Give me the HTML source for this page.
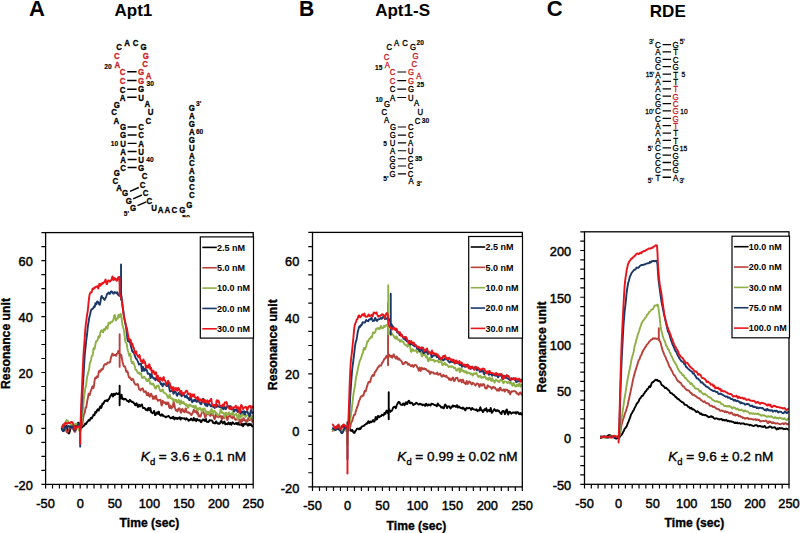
<!DOCTYPE html><html><head><meta charset="utf-8"><style>html,body{margin:0;padding:0;background:#fff;width:800px;height:533px;overflow:hidden;position:relative}</style></head><body><svg width="800" height="533" viewBox="0 0 800 533" style="position:absolute;left:0;top:0">
<style>text{font-family:"Liberation Sans", sans-serif}.tl{font-size:12.8px;stroke:#000;stroke-width:0.45px}.at{font-size:12.6px;font-weight:bold;stroke:#000;stroke-width:0.35px}.lg{font-size:9px;font-weight:bold}.kd{font-size:13.6px;stroke:#000;stroke-width:0.35px}.nt{font-size:9.2px;font-weight:bold}.nr{font-size:8.8px}.num{font-size:7.4px;font-weight:bold;stroke:#000;stroke-width:0.15px}.numr{font-size:7.6px;stroke:#000;stroke-width:0.3px}.lbl{font-size:22px;font-weight:bold}.ttl{font-size:17px;font-weight:bold}</style>
<g>
</g>
<g>
</g>
<g>
</g>
<path d="M61.52,427.99 L62.00,428.81 L62.48,429.84 L62.97,430.68 L63.45,430.97 L63.94,430.51 L64.42,429.39 L64.91,428.03 L65.39,426.81 L65.88,425.91 L66.36,425.81 L66.84,426.73 L67.33,428.71 L67.81,431.04 L68.30,432.86 L68.78,433.51 L69.27,432.96 L69.75,431.45 L70.24,429.39 L70.72,427.35 L71.20,425.82 L71.69,425.05 L72.17,425.04 L72.66,425.41 L73.14,425.85 L73.63,426.14 L74.11,426.23 L74.59,426.18 L75.08,426.10 L75.56,426.14 L76.05,426.00 L76.53,425.56 L77.02,424.72 L77.50,423.69 L77.99,422.84 L78.47,422.60 L78.95,423.17 L79.44,424.48 L79.92,426.15 L80.41,427.95 L80.89,428.55 L81.38,427.98 L81.86,427.29 L82.35,427.23 L82.83,426.54 L83.31,425.78 L83.80,425.84 L84.28,425.64 L84.77,424.39 L85.25,423.45 L85.74,423.94 L86.22,423.96 L86.70,422.90 L87.19,421.94 L87.67,421.44 L88.16,421.04 L88.64,419.91 L89.13,419.91 L89.61,420.61 L90.10,419.57 L90.58,418.10 L91.06,417.82 L91.55,418.53 L92.03,418.13 L92.52,416.72 L93.00,415.88 L93.49,414.74 L93.97,414.57 L94.46,415.26 L94.94,413.54 L95.42,411.84 L95.91,412.59 L96.39,412.53 L96.88,410.87 L97.36,409.64 L97.85,409.23 L98.33,410.08 L98.81,410.51 L99.30,409.22 L99.78,407.62 L100.27,406.23 L100.75,406.54 L101.24,407.90 L101.72,406.80 L102.21,404.07 L102.69,403.39 L103.17,404.01 L103.66,403.32 L104.14,402.06 L104.63,401.13 L105.11,400.55 L105.60,400.68 L106.08,400.96 L106.57,400.17 L107.05,400.11 L107.53,401.21 L108.02,400.13 L108.50,399.10 L108.99,399.08 L109.47,398.04 L109.96,396.93 L110.44,395.99 L110.92,395.47 L111.41,394.61 L111.89,393.82 L112.38,394.77 L112.86,396.56 L113.35,395.98 L113.83,393.76 L114.32,394.10 L114.80,395.04 L115.28,394.52 L115.77,393.78 L116.25,393.18 L116.74,393.37 L117.22,394.04 L117.71,394.08 L118.19,393.93 L118.68,393.95 L119.16,392.60 L119.64,392.84 L119.64,393.47 L119.64,385.64 L119.64,405.22 L119.64,396.27 L120.13,396.69 L120.61,398.48 L121.10,395.71 L121.58,394.62 L122.07,397.71 L122.55,399.13 L123.03,398.41 L123.52,399.01 L124.00,399.55 L124.49,399.00 L124.97,398.71 L125.46,399.06 L125.94,399.25 L126.43,399.88 L126.91,400.69 L127.39,400.98 L127.88,401.04 L128.36,401.15 L128.85,401.98 L129.33,401.43 L129.82,399.82 L130.30,400.29 L130.79,401.00 L131.27,401.13 L131.75,401.93 L132.24,402.11 L132.72,401.67 L133.21,402.46 L133.69,403.23 L134.18,402.91 L134.66,403.82 L135.14,405.18 L135.63,405.25 L136.11,403.90 L136.60,403.27 L137.08,404.66 L137.57,406.13 L138.05,406.95 L138.54,405.76 L139.02,404.60 L139.50,405.73 L139.99,406.52 L140.47,405.86 L140.96,405.22 L141.44,404.60 L141.93,404.43 L142.41,406.19 L142.90,407.88 L143.38,408.02 L143.86,407.87 L144.35,407.96 L144.83,408.13 L145.32,409.14 L145.80,409.86 L146.29,409.20 L146.77,409.88 L147.25,410.50 L147.74,408.86 L148.22,407.90 L148.71,408.78 L149.19,410.31 L149.68,409.88 L150.16,407.83 L150.65,409.16 L151.13,412.23 L151.61,412.67 L152.10,412.66 L152.58,413.22 L153.07,412.84 L153.55,411.96 L154.04,410.91 L154.52,412.38 L155.01,415.02 L155.49,415.12 L155.97,414.22 L156.46,412.96 L156.94,412.52 L157.43,413.59 L157.91,413.73 L158.40,411.69 L158.88,411.74 L159.36,414.17 L159.85,414.94 L160.33,415.07 L160.82,415.69 L161.30,415.16 L161.79,414.18 L162.27,415.24 L162.76,415.71 L163.24,415.26 L163.72,415.92 L164.21,416.36 L164.69,416.37 L165.18,416.73 L165.66,417.29 L166.15,417.06 L166.63,416.62 L167.12,416.53 L167.60,416.47 L168.08,416.19 L168.57,415.94 L169.05,416.49 L169.54,417.20 L170.02,417.65 L170.51,418.23 L170.99,418.08 L171.47,417.57 L171.96,418.22 L172.44,418.18 L172.93,416.92 L173.41,416.79 L173.90,418.46 L174.38,419.33 L174.87,417.84 L175.35,417.68 L175.83,418.40 L176.32,417.85 L176.80,418.50 L177.29,419.11 L177.77,418.28 L178.26,417.81 L178.74,418.52 L179.23,418.48 L179.71,417.22 L180.19,418.45 L180.68,419.57 L181.16,418.40 L181.65,418.00 L182.13,418.19 L182.62,418.42 L183.10,418.37 L183.58,418.46 L184.07,418.64 L184.55,418.32 L185.04,419.01 L185.52,419.56 L186.01,418.67 L186.49,418.21 L186.98,419.07 L187.46,419.35 L187.94,419.42 L188.43,420.76 L188.91,420.73 L189.40,420.04 L189.88,420.27 L190.37,419.67 L190.85,418.63 L191.34,418.68 L191.82,419.94 L192.30,420.13 L192.79,420.48 L193.27,420.07 L193.76,417.85 L194.24,418.95 L194.73,420.15 L195.21,419.08 L195.69,420.12 L196.18,421.17 L196.66,419.57 L197.15,418.84 L197.63,420.02 L198.12,420.18 L198.60,420.08 L199.09,420.48 L199.57,420.01 L200.05,420.07 L200.54,421.49 L201.02,422.13 L201.51,421.70 L201.99,420.88 L202.48,419.81 L202.96,419.46 L203.45,419.64 L203.93,419.96 L204.41,420.74 L204.90,421.06 L205.38,419.61 L205.87,418.87 L206.35,420.61 L206.84,421.79 L207.32,421.71 L207.80,421.98 L208.29,422.00 L208.77,421.53 L209.26,420.72 L209.74,419.97 L210.23,420.44 L210.71,420.57 L211.20,420.46 L211.68,420.58 L212.16,420.55 L212.65,421.90 L213.13,422.95 L213.62,422.52 L214.10,422.74 L214.59,423.27 L215.07,423.42 L215.56,422.88 L216.04,421.41 L216.52,421.69 L217.01,423.18 L217.49,423.52 L217.98,423.09 L218.46,423.13 L218.95,423.86 L219.43,423.83 L219.91,423.25 L220.40,422.53 L220.88,421.18 L221.37,420.86 L221.85,421.70 L222.34,422.77 L222.82,423.41 L223.31,422.72 L223.79,422.19 L224.27,421.50 L224.76,422.12 L225.24,424.23 L225.73,424.36 L226.21,423.64 L226.70,423.63 L227.18,424.34 L227.67,424.17 L228.15,422.89 L228.63,422.45 L229.12,423.27 L229.60,424.34 L230.09,423.86 L230.57,422.78 L231.06,423.84 L231.54,424.76 L232.02,423.32 L232.51,422.29 L232.99,422.70 L233.48,423.15 L233.96,423.58 L234.45,424.12 L234.93,424.01 L235.42,423.71 L235.90,422.95 L236.38,422.95 L236.87,424.24 L237.35,424.43 L237.84,423.46 L238.32,422.54 L238.81,423.46 L239.29,424.84 L239.78,424.02 L240.26,422.24 L240.74,422.66 L241.23,425.26 L241.71,425.13 L242.20,424.07 L242.68,425.80 L243.17,426.17 L243.65,424.15 L244.13,423.68 L244.62,424.56 L245.10,424.44 L245.59,423.59 L246.07,423.20 L246.56,423.57 L247.04,424.33 L247.53,425.42 L248.01,425.64 L248.49,424.61 L248.98,423.64 L249.46,424.29 L249.95,425.23 L250.43,424.45 L250.92,424.12 L251.40,425.08 L251.89,425.68 L252.37,426.48 L252.85,427.14" fill="none" stroke="#000000" stroke-width="1.90" stroke-linejoin="round"/>
<path d="M61.52,428.15 L62.00,427.35 L62.48,426.06 L62.97,424.86 L63.45,424.21 L63.94,424.36 L64.42,425.21 L64.91,426.57 L65.39,428.30 L65.88,430.06 L66.36,431.49 L66.84,432.32 L67.33,432.47 L67.81,431.91 L68.30,430.86 L68.78,429.64 L69.27,428.58 L69.75,428.08 L70.24,428.06 L70.72,428.25 L71.20,428.30 L71.69,428.14 L72.17,428.08 L72.66,428.27 L73.14,428.84 L73.63,429.78 L74.11,430.91 L74.59,431.68 L75.08,431.73 L75.56,430.74 L76.05,428.79 L76.53,426.54 L77.02,424.63 L77.50,423.68 L77.99,423.74 L78.47,424.30 L78.95,424.73 L79.44,424.55 L79.92,424.06 L80.41,429.46 L80.89,426.54 L81.38,424.52 L81.86,425.25 L82.35,424.89 L82.83,421.23 L83.31,417.43 L83.80,414.75 L84.28,413.50 L84.77,412.85 L85.25,409.32 L85.74,407.22 L86.22,407.49 L86.70,404.50 L87.19,401.02 L87.67,399.38 L88.16,396.32 L88.64,393.68 L89.13,394.26 L89.61,395.13 L90.10,393.77 L90.58,391.42 L91.06,390.21 L91.55,389.33 L92.03,387.45 L92.52,386.26 L93.00,386.99 L93.49,388.02 L93.97,386.00 L94.46,381.58 L94.94,378.71 L95.42,377.52 L95.91,377.99 L96.39,378.13 L96.88,376.49 L97.36,376.30 L97.85,377.07 L98.33,374.89 L98.81,371.46 L99.30,370.80 L99.78,371.35 L100.27,371.75 L100.75,371.02 L101.24,369.24 L101.72,369.24 L102.21,369.64 L102.69,369.11 L103.17,368.37 L103.66,366.27 L104.14,365.03 L104.63,364.89 L105.11,364.01 L105.60,364.14 L106.08,364.49 L106.57,364.29 L107.05,363.43 L107.53,362.49 L108.02,362.58 L108.50,362.70 L108.99,362.43 L109.47,362.58 L109.96,362.31 L110.44,360.24 L110.92,357.79 L111.41,356.43 L111.89,354.81 L112.38,353.55 L112.86,355.10 L113.35,355.48 L113.83,354.42 L114.32,354.93 L114.80,355.05 L115.28,355.04 L115.77,355.76 L116.25,355.74 L116.74,353.94 L117.22,353.69 L117.71,353.47 L118.19,351.04 L118.68,350.87 L119.16,352.88 L119.64,354.29 L119.64,354.30 L119.64,334.16 L119.64,366.89 L119.64,355.70 L120.13,354.63 L120.61,354.56 L121.10,354.63 L121.58,356.33 L122.07,359.56 L122.55,361.74 L123.03,363.65 L123.52,365.77 L124.00,366.63 L124.49,366.64 L124.97,366.48 L125.46,367.95 L125.94,370.61 L126.43,371.88 L126.91,371.59 L127.39,371.20 L127.88,372.70 L128.36,374.96 L128.85,377.01 L129.33,377.75 L129.82,377.38 L130.30,377.62 L130.79,378.85 L131.27,379.99 L131.75,379.95 L132.24,379.43 L132.72,378.94 L133.21,379.50 L133.69,381.13 L134.18,382.77 L134.66,383.40 L135.14,384.17 L135.63,384.68 L136.11,384.50 L136.60,384.73 L137.08,384.39 L137.57,383.95 L138.05,384.70 L138.54,386.95 L139.02,389.12 L139.50,389.28 L139.99,389.81 L140.47,390.47 L140.96,389.11 L141.44,388.97 L141.93,389.27 L142.41,388.34 L142.90,388.61 L143.38,390.51 L143.86,391.88 L144.35,391.35 L144.83,391.62 L145.32,392.29 L145.80,391.33 L146.29,392.69 L146.77,395.17 L147.25,395.30 L147.74,394.55 L148.22,392.93 L148.71,393.35 L149.19,396.13 L149.68,396.75 L150.16,395.88 L150.65,394.88 L151.13,393.66 L151.61,394.47 L152.10,395.99 L152.58,397.48 L153.07,399.03 L153.55,397.65 L154.04,396.40 L154.52,397.97 L155.01,398.76 L155.49,396.88 L155.97,395.69 L156.46,398.12 L156.94,399.53 L157.43,399.49 L157.91,400.82 L158.40,400.85 L158.88,400.03 L159.36,400.18 L159.85,400.36 L160.33,399.65 L160.82,401.10 L161.30,404.71 L161.79,405.52 L162.27,402.83 L162.76,400.76 L163.24,401.51 L163.72,402.77 L164.21,402.83 L164.69,402.28 L165.18,402.44 L165.66,403.84 L166.15,404.37 L166.63,402.57 L167.12,402.90 L167.60,404.12 L168.08,402.49 L168.57,403.21 L169.05,406.84 L169.54,408.00 L170.02,405.95 L170.51,405.40 L170.99,407.87 L171.47,408.47 L171.96,406.82 L172.44,407.25 L172.93,406.28 L173.41,402.65 L173.90,402.37 L174.38,405.34 L174.87,407.31 L175.35,408.80 L175.83,410.44 L176.32,409.97 L176.80,410.03 L177.29,411.56 L177.77,411.07 L178.26,409.01 L178.74,408.32 L179.23,408.20 L179.71,408.49 L180.19,410.55 L180.68,412.56 L181.16,412.70 L181.65,410.65 L182.13,409.05 L182.62,409.13 L183.10,409.96 L183.58,411.42 L184.07,411.96 L184.55,412.30 L185.04,411.24 L185.52,408.37 L186.01,408.80 L186.49,411.58 L186.98,412.25 L187.46,412.34 L187.94,412.55 L188.43,412.25 L188.91,412.77 L189.40,413.20 L189.88,413.20 L190.37,413.57 L190.85,414.55 L191.34,415.10 L191.82,414.41 L192.30,413.52 L192.79,412.72 L193.27,411.20 L193.76,409.67 L194.24,410.42 L194.73,411.69 L195.21,412.11 L195.69,412.02 L196.18,410.87 L196.66,411.95 L197.15,413.67 L197.63,412.26 L198.12,413.15 L198.60,416.38 L199.09,416.06 L199.57,415.50 L200.05,416.70 L200.54,416.54 L201.02,415.01 L201.51,413.32 L201.99,411.28 L202.48,410.46 L202.96,411.91 L203.45,412.62 L203.93,412.96 L204.41,414.37 L204.90,416.61 L205.38,417.81 L205.87,415.96 L206.35,412.88 L206.84,411.57 L207.32,412.43 L207.80,414.10 L208.29,414.44 L208.77,412.49 L209.26,412.49 L209.74,414.74 L210.23,415.98 L210.71,415.40 L211.20,413.64 L211.68,413.82 L212.16,414.88 L212.65,414.61 L213.13,414.87 L213.62,416.52 L214.10,418.20 L214.59,419.14 L215.07,418.43 L215.56,414.91 L216.04,413.86 L216.52,416.60 L217.01,416.66 L217.49,416.11 L217.98,417.02 L218.46,417.29 L218.95,416.81 L219.43,415.94 L219.91,416.39 L220.40,416.35 L220.88,415.95 L221.37,417.92 L221.85,419.61 L222.34,418.14 L222.82,416.32 L223.31,416.45 L223.79,417.48 L224.27,418.24 L224.76,417.22 L225.24,416.22 L225.73,415.62 L226.21,415.10 L226.70,417.18 L227.18,419.99 L227.67,419.57 L228.15,417.28 L228.63,416.45 L229.12,416.29 L229.60,415.64 L230.09,414.82 L230.57,415.64 L231.06,417.59 L231.54,417.36 L232.02,417.46 L232.51,418.25 L232.99,416.54 L233.48,415.36 L233.96,416.61 L234.45,418.00 L234.93,419.07 L235.42,419.87 L235.90,419.75 L236.38,419.47 L236.87,419.45 L237.35,419.34 L237.84,418.22 L238.32,418.24 L238.81,419.46 L239.29,420.12 L239.78,422.55 L240.26,423.38 L240.74,420.90 L241.23,419.24 L241.71,419.99 L242.20,421.41 L242.68,420.67 L243.17,418.79 L243.65,418.17 L244.13,418.83 L244.62,419.90 L245.10,420.96 L245.59,421.13 L246.07,420.30 L246.56,420.14 L247.04,421.50 L247.53,421.55 L248.01,418.97 L248.49,417.49 L248.98,418.61 L249.46,420.06 L249.95,420.08 L250.43,419.08 L250.92,418.18 L251.40,417.96 L251.89,419.83 L252.37,422.14 L252.85,422.17" fill="none" stroke="#b8403a" stroke-width="1.90" stroke-linejoin="round"/>
<path d="M61.52,427.10 L62.00,427.20 L62.48,427.51 L62.97,427.73 L63.45,427.49 L63.94,426.62 L64.42,425.33 L64.91,423.90 L65.39,422.55 L65.88,421.32 L66.36,420.44 L66.84,420.05 L67.33,420.26 L67.81,420.87 L68.30,421.69 L68.78,422.37 L69.27,422.82 L69.75,423.12 L70.24,423.49 L70.72,424.02 L71.20,424.56 L71.69,424.85 L72.17,424.84 L72.66,424.66 L73.14,424.55 L73.63,424.57 L74.11,424.66 L74.59,424.55 L75.08,424.22 L75.56,423.83 L76.05,423.68 L76.53,424.01 L77.02,424.87 L77.50,426.12 L77.99,427.62 L78.47,429.12 L78.95,430.28 L79.44,430.78 L79.92,430.79 L80.41,430.66 L80.89,425.71 L81.38,420.44 L81.86,417.70 L82.35,415.07 L82.83,410.75 L83.31,405.49 L83.80,399.69 L84.28,395.48 L84.77,392.18 L85.25,388.67 L85.74,386.86 L86.22,384.47 L86.70,379.97 L87.19,376.56 L87.67,375.01 L88.16,372.77 L88.64,370.90 L89.13,369.23 L89.61,364.79 L90.10,362.22 L90.58,361.90 L91.06,359.79 L91.55,357.06 L92.03,355.52 L92.52,355.56 L93.00,353.27 L93.49,348.66 L93.97,347.64 L94.46,349.03 L94.94,347.12 L95.42,344.32 L95.91,342.38 L96.39,340.84 L96.88,340.95 L97.36,340.65 L97.85,338.93 L98.33,336.70 L98.81,336.29 L99.30,337.63 L99.78,336.58 L100.27,332.95 L100.75,331.22 L101.24,330.84 L101.72,330.15 L102.21,330.86 L102.69,332.05 L103.17,332.26 L103.66,330.40 L104.14,328.88 L104.63,329.99 L105.11,329.98 L105.60,328.23 L106.08,326.65 L106.57,326.53 L107.05,328.44 L107.53,328.65 L108.02,325.56 L108.50,322.79 L108.99,322.50 L109.47,323.37 L109.96,323.56 L110.44,323.03 L110.92,322.22 L111.41,321.80 L111.89,322.14 L112.38,321.69 L112.86,320.57 L113.35,319.69 L113.83,317.83 L114.32,315.40 L114.80,314.90 L115.28,317.43 L115.77,320.44 L116.25,320.32 L116.74,318.47 L117.22,318.55 L117.71,318.74 L118.19,315.74 L118.68,314.65 L119.16,316.90 L119.64,316.98 L120.13,314.93 L120.61,313.92 L121.10,315.19 L121.58,318.42 L122.07,322.44 L122.55,325.56 L123.03,327.20 L123.52,328.64 L124.00,330.90 L124.49,334.61 L124.97,338.99 L125.46,341.98 L125.94,342.84 L126.43,342.86 L126.91,344.99 L127.39,348.65 L127.88,350.56 L128.36,351.83 L128.85,354.37 L129.33,355.88 L129.82,354.24 L130.30,353.71 L130.79,357.19 L131.27,360.77 L131.75,362.90 L132.24,363.36 L132.72,361.92 L133.21,361.85 L133.69,363.45 L134.18,364.64 L134.66,365.60 L135.14,367.63 L135.63,369.89 L136.11,370.06 L136.60,370.03 L137.08,371.38 L137.57,372.53 L138.05,373.19 L138.54,372.76 L139.02,372.44 L139.50,373.78 L139.99,374.28 L140.47,373.63 L140.96,373.17 L141.44,374.92 L141.93,377.73 L142.41,377.78 L142.90,377.74 L143.38,377.86 L143.86,376.91 L144.35,376.65 L144.83,377.55 L145.32,378.20 L145.80,378.53 L146.29,380.30 L146.77,381.09 L147.25,381.03 L147.74,380.78 L148.22,379.27 L148.71,378.59 L149.19,379.55 L149.68,382.12 L150.16,383.90 L150.65,383.36 L151.13,383.41 L151.61,384.38 L152.10,384.51 L152.58,383.64 L153.07,383.52 L153.55,384.54 L154.04,385.15 L154.52,386.65 L155.01,388.21 L155.49,388.66 L155.97,388.52 L156.46,386.85 L156.94,385.70 L157.43,386.22 L157.91,385.83 L158.40,385.42 L158.88,386.84 L159.36,388.39 L159.85,390.19 L160.33,390.99 L160.82,390.77 L161.30,391.27 L161.79,390.58 L162.27,389.54 L162.76,389.63 L163.24,391.25 L163.72,392.57 L164.21,392.50 L164.69,393.04 L165.18,393.37 L165.66,393.34 L166.15,393.82 L166.63,394.78 L167.12,395.59 L167.60,396.78 L168.08,397.95 L168.57,397.70 L169.05,396.66 L169.54,394.66 L170.02,395.39 L170.51,398.38 L170.99,398.28 L171.47,398.21 L171.96,398.87 L172.44,398.41 L172.93,399.80 L173.41,401.42 L173.90,400.57 L174.38,399.60 L174.87,400.33 L175.35,400.97 L175.83,399.70 L176.32,399.85 L176.80,402.11 L177.29,402.60 L177.77,402.15 L178.26,401.21 L178.74,399.85 L179.23,401.37 L179.71,403.99 L180.19,404.29 L180.68,402.00 L181.16,400.40 L181.65,402.09 L182.13,403.27 L182.62,403.18 L183.10,402.42 L183.58,401.85 L184.07,403.36 L184.55,404.12 L185.04,403.98 L185.52,405.11 L186.01,405.44 L186.49,404.26 L186.98,404.89 L187.46,406.68 L187.94,407.86 L188.43,407.57 L188.91,405.71 L189.40,404.68 L189.88,404.57 L190.37,404.60 L190.85,405.52 L191.34,406.33 L191.82,406.03 L192.30,406.40 L192.79,407.05 L193.27,406.22 L193.76,405.79 L194.24,407.26 L194.73,408.11 L195.21,406.51 L195.69,405.79 L196.18,407.75 L196.66,409.07 L197.15,408.31 L197.63,408.66 L198.12,410.38 L198.60,409.12 L199.09,408.06 L199.57,408.72 L200.05,407.79 L200.54,408.32 L201.02,409.91 L201.51,410.84 L201.99,412.04 L202.48,410.50 L202.96,408.69 L203.45,408.97 L203.93,408.54 L204.41,408.66 L204.90,409.20 L205.38,411.24 L205.87,413.76 L206.35,412.70 L206.84,411.62 L207.32,413.03 L207.80,413.13 L208.29,411.81 L208.77,412.75 L209.26,414.15 L209.74,412.65 L210.23,410.99 L210.71,410.89 L211.20,409.66 L211.68,409.05 L212.16,411.37 L212.65,413.96 L213.13,414.19 L213.62,412.20 L214.10,410.71 L214.59,410.82 L215.07,411.55 L215.56,412.24 L216.04,412.49 L216.52,412.98 L217.01,413.96 L217.49,415.34 L217.98,415.69 L218.46,414.97 L218.95,415.05 L219.43,414.31 L219.91,412.73 L220.40,410.85 L220.88,408.86 L221.37,410.52 L221.85,412.92 L222.34,412.46 L222.82,412.83 L223.31,413.36 L223.79,413.02 L224.27,415.77 L224.76,417.47 L225.24,415.01 L225.73,413.11 L226.21,412.77 L226.70,414.53 L227.18,414.90 L227.67,413.52 L228.15,414.36 L228.63,413.69 L229.12,412.22 L229.60,413.31 L230.09,414.34 L230.57,413.84 L231.06,413.89 L231.54,414.67 L232.02,414.01 L232.51,412.12 L232.99,411.67 L233.48,414.35 L233.96,415.78 L234.45,414.84 L234.93,414.86 L235.42,414.86 L235.90,414.03 L236.38,414.04 L236.87,415.38 L237.35,417.43 L237.84,419.18 L238.32,417.16 L238.81,414.51 L239.29,415.84 L239.78,417.64 L240.26,417.22 L240.74,415.59 L241.23,415.87 L241.71,416.73 L242.20,415.56 L242.68,414.64 L243.17,415.20 L243.65,415.19 L244.13,413.96 L244.62,414.51 L245.10,416.30 L245.59,417.01 L246.07,416.27 L246.56,415.46 L247.04,415.38 L247.53,414.74 L248.01,414.08 L248.49,413.80 L248.98,414.58 L249.46,417.22 L249.95,418.74 L250.43,416.85 L250.92,415.27 L251.40,415.53 L251.89,416.11 L252.37,417.13 L252.85,417.45" fill="none" stroke="#8fb046" stroke-width="1.90" stroke-linejoin="round"/>
<path d="M61.52,428.28 L62.00,429.26 L62.48,430.39 L62.97,431.15 L63.45,430.89 L63.94,429.53 L64.42,427.70 L64.91,426.40 L65.39,426.22 L65.88,426.86 L66.36,427.64 L66.84,427.84 L67.33,427.40 L67.81,426.58 L68.30,425.95 L68.78,425.90 L69.27,426.40 L69.75,427.08 L70.24,427.56 L70.72,427.62 L71.20,427.30 L71.69,426.80 L72.17,426.55 L72.66,426.83 L73.14,427.78 L73.63,429.00 L74.11,430.09 L74.59,430.59 L75.08,430.42 L75.56,429.77 L76.05,428.77 L76.53,427.57 L77.02,426.43 L77.50,425.39 L77.99,424.58 L78.47,423.99 L78.95,423.86 L79.44,424.35 L79.92,425.94 L80.20,427.05 L80.20,446.63 L80.20,428.44 L80.41,430.82 L80.89,423.04 L81.38,413.19 L81.86,403.85 L82.35,395.42 L82.83,387.31 L83.31,379.07 L83.80,371.26 L84.28,362.64 L84.77,354.77 L85.25,350.24 L85.74,345.50 L86.22,340.52 L86.70,337.21 L87.19,333.06 L87.67,327.92 L88.16,324.53 L88.64,321.87 L89.13,318.20 L89.61,316.16 L90.10,314.51 L90.58,312.02 L91.06,310.28 L91.55,309.30 L92.03,309.24 L92.52,308.88 L93.00,308.54 L93.49,307.80 L93.97,306.36 L94.46,307.10 L94.94,306.22 L95.42,303.14 L95.91,303.92 L96.39,304.19 L96.88,301.92 L97.36,301.43 L97.85,301.80 L98.33,302.51 L98.81,303.45 L99.30,304.60 L99.78,304.76 L100.27,302.70 L100.75,299.97 L101.24,296.82 L101.72,295.95 L102.21,297.55 L102.69,297.74 L103.17,297.79 L103.66,298.68 L104.14,299.71 L104.63,299.77 L105.11,298.85 L105.60,297.91 L106.08,296.85 L106.57,295.48 L107.05,293.88 L107.53,293.77 L108.02,293.57 L108.50,292.49 L108.99,292.77 L109.47,293.68 L109.96,293.91 L110.44,293.05 L110.92,291.59 L111.41,291.34 L111.89,291.68 L112.38,292.18 L112.86,292.90 L113.35,293.62 L113.83,293.67 L114.32,292.24 L114.80,292.09 L115.28,292.58 L115.77,292.48 L116.25,293.26 L116.74,293.18 L117.22,292.35 L117.71,293.62 L118.19,294.93 L118.68,295.50 L119.16,295.73 L119.64,294.71 L120.13,295.67 L120.61,296.26 L121.03,296.95 L121.03,264.49 L121.03,299.75 L121.10,294.70 L121.58,296.41 L122.07,302.06 L122.55,306.60 L123.03,309.08 L123.52,312.06 L124.00,316.62 L124.49,319.49 L124.97,321.22 L125.46,324.03 L125.94,326.62 L126.43,330.00 L126.91,334.41 L127.39,338.46 L127.88,341.08 L128.36,340.11 L128.85,339.90 L129.33,342.10 L129.82,342.28 L130.30,343.07 L130.79,345.79 L131.27,347.58 L131.75,349.24 L132.24,351.18 L132.72,352.04 L133.21,352.07 L133.69,352.06 L134.18,353.43 L134.66,355.28 L135.14,356.27 L135.63,357.87 L136.11,358.71 L136.60,358.79 L137.08,359.89 L137.57,360.86 L138.05,361.76 L138.54,363.40 L139.02,364.53 L139.50,364.04 L139.99,363.68 L140.47,363.72 L140.96,363.59 L141.44,367.12 L141.93,371.23 L142.41,369.32 L142.90,366.71 L143.38,368.31 L143.86,370.73 L144.35,370.70 L144.83,368.92 L145.32,368.64 L145.80,369.88 L146.29,370.21 L146.77,369.91 L147.25,371.76 L147.74,373.88 L148.22,373.42 L148.71,373.46 L149.19,374.01 L149.68,373.90 L150.16,376.48 L150.65,378.18 L151.13,375.04 L151.61,373.91 L152.10,376.17 L152.58,377.14 L153.07,377.80 L153.55,378.62 L154.04,378.20 L154.52,378.25 L155.01,379.40 L155.49,380.34 L155.97,379.56 L156.46,377.32 L156.94,376.73 L157.43,378.29 L157.91,380.35 L158.40,381.06 L158.88,379.34 L159.36,379.58 L159.85,381.67 L160.33,382.65 L160.82,384.32 L161.30,384.03 L161.79,383.45 L162.27,385.68 L162.76,386.28 L163.24,384.19 L163.72,383.49 L164.21,384.01 L164.69,384.30 L165.18,384.63 L165.66,384.20 L166.15,384.99 L166.63,386.03 L167.12,386.06 L167.60,385.62 L168.08,384.04 L168.57,384.05 L169.05,386.74 L169.54,389.69 L170.02,391.50 L170.51,391.49 L170.99,390.68 L171.47,390.64 L171.96,390.94 L172.44,390.85 L172.93,391.67 L173.41,393.78 L173.90,393.47 L174.38,391.02 L174.87,391.16 L175.35,392.18 L175.83,392.25 L176.32,393.57 L176.80,395.53 L177.29,395.81 L177.77,394.23 L178.26,393.19 L178.74,392.85 L179.23,393.24 L179.71,394.43 L180.19,394.32 L180.68,394.05 L181.16,395.33 L181.65,396.25 L182.13,395.72 L182.62,394.79 L183.10,393.76 L183.58,393.90 L184.07,395.14 L184.55,396.11 L185.04,397.08 L185.52,397.19 L186.01,396.18 L186.49,395.35 L186.98,396.60 L187.46,398.18 L187.94,397.87 L188.43,398.11 L188.91,399.26 L189.40,400.23 L189.88,398.87 L190.37,396.44 L190.85,397.04 L191.34,399.15 L191.82,401.43 L192.30,402.25 L192.79,401.18 L193.27,400.15 L193.76,400.24 L194.24,401.10 L194.73,399.83 L195.21,399.32 L195.69,400.76 L196.18,401.32 L196.66,401.85 L197.15,401.52 L197.63,399.95 L198.12,399.88 L198.60,401.67 L199.09,401.71 L199.57,401.60 L200.05,403.24 L200.54,403.84 L201.02,404.22 L201.51,403.81 L201.99,402.08 L202.48,400.13 L202.96,398.63 L203.45,399.14 L203.93,401.04 L204.41,403.14 L204.90,404.06 L205.38,405.23 L205.87,405.63 L206.35,403.78 L206.84,404.59 L207.32,406.28 L207.80,405.04 L208.29,402.86 L208.77,402.68 L209.26,404.09 L209.74,404.50 L210.23,405.30 L210.71,406.17 L211.20,405.48 L211.68,406.02 L212.16,406.52 L212.65,405.97 L213.13,406.64 L213.62,406.96 L214.10,407.39 L214.59,407.93 L215.07,406.85 L215.56,406.35 L216.04,407.36 L216.52,406.25 L217.01,404.90 L217.49,406.32 L217.98,406.56 L218.46,406.14 L218.95,406.71 L219.43,406.97 L219.91,406.97 L220.40,406.47 L220.88,407.14 L221.37,407.42 L221.85,406.13 L222.34,406.76 L222.82,408.44 L223.31,409.17 L223.79,408.86 L224.27,408.02 L224.76,406.96 L225.24,407.23 L225.73,409.17 L226.21,408.59 L226.70,406.76 L227.18,407.01 L227.67,406.70 L228.15,405.94 L228.63,406.78 L229.12,407.81 L229.60,407.31 L230.09,405.89 L230.57,406.85 L231.06,408.82 L231.54,409.48 L232.02,409.49 L232.51,408.09 L232.99,407.81 L233.48,409.35 L233.96,411.13 L234.45,411.50 L234.93,409.79 L235.42,409.48 L235.90,409.71 L236.38,409.47 L236.87,410.59 L237.35,411.51 L237.84,412.08 L238.32,410.68 L238.81,408.07 L239.29,409.14 L239.78,410.26 L240.26,411.40 L240.74,413.81 L241.23,412.47 L241.71,411.14 L242.20,411.51 L242.68,411.96 L243.17,412.98 L243.65,411.50 L244.13,411.15 L244.62,414.10 L245.10,414.35 L245.59,412.23 L246.07,411.72 L246.56,411.88 L247.04,411.16 L247.53,411.75 L248.01,413.12 L248.49,413.36 L248.98,414.62 L249.46,416.65 L249.95,415.47 L250.43,412.14 L250.92,410.17 L251.40,410.47 L251.89,412.82 L252.37,413.18 L252.85,411.75" fill="none" stroke="#1b3868" stroke-width="1.90" stroke-linejoin="round"/>
<path d="M61.52,426.36 L62.00,426.81 L62.48,426.90 L62.97,426.70 L63.45,426.25 L63.94,425.54 L64.42,424.53 L64.91,423.45 L65.39,422.78 L65.88,422.85 L66.36,423.38 L66.84,423.84 L67.33,423.72 L67.81,423.15 L68.30,422.72 L68.78,422.74 L69.27,423.07 L69.75,423.21 L70.24,422.89 L70.72,422.33 L71.20,421.96 L71.69,421.89 L72.17,422.09 L72.66,422.59 L73.14,423.74 L73.63,425.48 L74.11,427.42 L74.59,428.86 L75.08,429.37 L75.56,428.96 L76.05,427.94 L76.53,426.92 L77.02,426.33 L77.50,426.27 L77.99,426.58 L78.47,426.86 L78.95,426.99 L79.44,426.85 L79.92,426.73 L80.20,425.65 L80.20,443.83 L80.20,428.44 L80.41,427.59 L80.89,414.32 L81.38,399.97 L81.86,390.50 L82.35,379.03 L82.83,368.16 L83.31,358.15 L83.80,350.03 L84.28,344.13 L84.77,337.08 L85.25,329.84 L85.74,324.97 L86.22,321.34 L86.70,317.28 L87.19,314.17 L87.67,311.32 L88.16,306.78 L88.64,301.73 L89.13,297.53 L89.61,294.38 L90.10,293.27 L90.58,292.51 L91.06,292.03 L91.55,292.47 L92.03,290.72 L92.52,288.73 L93.00,289.07 L93.49,289.04 L93.97,287.99 L94.46,287.50 L94.94,287.86 L95.42,287.60 L95.91,286.65 L96.39,286.89 L96.88,286.76 L97.36,286.13 L97.85,287.47 L98.33,288.48 L98.81,286.52 L99.30,283.94 L99.78,284.22 L100.27,285.69 L100.75,284.90 L101.24,283.56 L101.72,284.42 L102.21,284.21 L102.69,282.79 L103.17,283.19 L103.66,282.83 L104.14,281.91 L104.63,281.87 L105.11,280.51 L105.60,279.45 L106.08,281.43 L106.57,284.01 L107.05,284.07 L107.53,282.20 L108.02,280.73 L108.50,280.38 L108.99,280.87 L109.47,281.46 L109.96,281.58 L110.44,280.91 L110.92,280.12 L111.41,279.99 L111.89,278.38 L112.38,276.46 L112.86,278.54 L113.35,280.01 L113.83,277.74 L114.32,278.19 L114.80,279.58 L115.28,278.46 L115.77,278.77 L116.25,280.19 L116.74,280.81 L117.22,280.50 L117.71,278.52 L118.19,277.27 L118.68,277.93 L119.16,276.83 L119.64,283.88 L119.64,278.48 L119.64,295.55 L119.64,279.32 L119.64,294.15 L120.13,294.92 L120.61,296.66 L121.10,297.57 L121.58,299.73 L122.07,301.31 L122.55,305.08 L123.03,310.18 L123.52,314.14 L124.00,316.61 L124.49,318.46 L124.97,320.89 L125.46,323.20 L125.94,325.69 L126.43,327.19 L126.91,328.18 L127.39,331.13 L127.88,333.98 L128.36,336.24 L128.85,339.15 L129.33,340.03 L129.82,339.41 L130.30,339.35 L130.79,340.36 L131.27,343.93 L131.75,345.69 L132.24,343.55 L132.72,344.80 L133.21,347.59 L133.69,347.51 L134.18,349.80 L134.66,353.13 L135.14,353.31 L135.63,351.77 L136.11,351.30 L136.60,353.48 L137.08,355.08 L137.57,355.47 L138.05,356.64 L138.54,357.29 L139.02,356.11 L139.50,355.05 L139.99,356.75 L140.47,359.95 L140.96,361.02 L141.44,360.55 L141.93,361.33 L142.41,363.08 L142.90,362.52 L143.38,359.50 L143.86,360.29 L144.35,362.88 L144.83,361.86 L145.32,363.11 L145.80,367.28 L146.29,367.77 L146.77,366.11 L147.25,365.64 L147.74,366.61 L148.22,367.71 L148.71,366.76 L149.19,364.30 L149.68,364.93 L150.16,369.23 L150.65,369.64 L151.13,367.95 L151.61,370.74 L152.10,372.78 L152.58,371.83 L153.07,370.88 L153.55,370.73 L154.04,372.57 L154.52,374.26 L155.01,373.86 L155.49,372.58 L155.97,372.25 L156.46,375.09 L156.94,378.45 L157.43,377.66 L157.91,375.79 L158.40,378.32 L158.88,381.21 L159.36,380.18 L159.85,377.89 L160.33,377.75 L160.82,379.20 L161.30,378.69 L161.79,378.76 L162.27,380.76 L162.76,380.10 L163.24,377.43 L163.72,377.10 L164.21,379.05 L164.69,380.17 L165.18,380.65 L165.66,382.18 L166.15,383.87 L166.63,384.63 L167.12,384.35 L167.60,382.22 L168.08,380.71 L168.57,382.14 L169.05,382.44 L169.54,382.71 L170.02,384.13 L170.51,385.91 L170.99,388.33 L171.47,387.26 L171.96,387.17 L172.44,390.57 L172.93,389.84 L173.41,387.09 L173.90,388.22 L174.38,390.05 L174.87,390.00 L175.35,389.11 L175.83,387.90 L176.32,388.15 L176.80,389.86 L177.29,390.71 L177.77,389.41 L178.26,387.98 L178.74,388.40 L179.23,389.44 L179.71,391.35 L180.19,393.29 L180.68,392.54 L181.16,390.85 L181.65,391.57 L182.13,394.04 L182.62,394.74 L183.10,393.35 L183.58,392.99 L184.07,393.50 L184.55,393.25 L185.04,392.58 L185.52,391.87 L186.01,391.16 L186.49,390.66 L186.98,390.68 L187.46,392.11 L187.94,394.05 L188.43,394.26 L188.91,394.06 L189.40,394.39 L189.88,393.53 L190.37,393.64 L190.85,396.79 L191.34,397.63 L191.82,395.20 L192.30,394.50 L192.79,395.96 L193.27,396.38 L193.76,394.44 L194.24,394.49 L194.73,396.72 L195.21,397.51 L195.69,397.41 L196.18,397.75 L196.66,398.87 L197.15,398.66 L197.63,397.03 L198.12,397.29 L198.60,398.21 L199.09,399.99 L199.57,401.56 L200.05,400.03 L200.54,399.37 L201.02,399.84 L201.51,400.21 L201.99,400.32 L202.48,399.76 L202.96,400.94 L203.45,402.42 L203.93,401.96 L204.41,400.27 L204.90,399.82 L205.38,402.05 L205.87,402.61 L206.35,401.29 L206.84,401.02 L207.32,400.36 L207.80,401.09 L208.29,402.92 L208.77,402.64 L209.26,400.88 L209.74,400.39 L210.23,400.91 L210.71,399.40 L211.20,398.73 L211.68,401.88 L212.16,404.81 L212.65,405.67 L213.13,405.66 L213.62,405.02 L214.10,405.14 L214.59,404.85 L215.07,404.98 L215.56,407.26 L216.04,405.44 L216.52,400.71 L217.01,400.21 L217.49,401.75 L217.98,401.39 L218.46,400.58 L218.95,401.80 L219.43,404.30 L219.91,405.73 L220.40,405.59 L220.88,405.79 L221.37,406.31 L221.85,405.94 L222.34,405.31 L222.82,404.51 L223.31,404.66 L223.79,406.17 L224.27,404.78 L224.76,402.52 L225.24,402.93 L225.73,402.72 L226.21,401.97 L226.70,402.26 L227.18,404.49 L227.67,407.15 L228.15,407.24 L228.63,407.52 L229.12,408.55 L229.60,408.49 L230.09,409.20 L230.57,409.10 L231.06,407.05 L231.54,406.63 L232.02,407.96 L232.51,408.56 L232.99,408.15 L233.48,407.75 L233.96,407.50 L234.45,407.36 L234.93,407.14 L235.42,406.24 L235.90,405.67 L236.38,406.58 L236.87,408.14 L237.35,408.12 L237.84,407.14 L238.32,407.24 L238.81,409.22 L239.29,412.71 L239.78,412.65 L240.26,408.65 L240.74,405.87 L241.23,404.92 L241.71,405.51 L242.20,406.86 L242.68,408.54 L243.17,409.13 L243.65,408.00 L244.13,407.74 L244.62,407.49 L245.10,407.13 L245.59,406.84 L246.07,406.93 L246.56,408.38 L247.04,409.55 L247.53,409.82 L248.01,408.10 L248.49,406.37 L248.98,406.71 L249.46,406.24 L249.95,405.76 L250.43,406.10 L250.92,407.34 L251.40,408.86 L251.89,407.37 L252.37,406.31 L252.85,408.16" fill="none" stroke="#e8141a" stroke-width="1.90" stroke-linejoin="round"/>
<path d="M332.08,429.05 L332.57,429.41 L333.06,429.73 L333.55,429.80 L334.04,429.48 L334.53,428.80 L335.02,427.95 L335.51,427.14 L336.00,426.67 L336.49,426.65 L336.98,427.12 L337.47,427.83 L337.96,428.58 L338.45,429.18 L338.93,429.57 L339.42,429.66 L339.91,429.42 L340.40,428.93 L340.89,428.26 L341.38,427.45 L341.87,426.59 L342.36,425.83 L342.85,425.44 L343.34,425.63 L343.83,426.36 L344.32,427.30 L344.81,428.16 L345.30,428.83 L345.79,429.50 L346.28,430.27 L346.77,431.10 L347.26,431.83 L347.47,428.93 L347.47,422.14 L347.47,429.78 L347.75,429.52 L348.24,428.75 L348.73,428.62 L349.21,429.23 L349.70,429.00 L350.19,429.01 L350.68,430.34 L351.17,431.08 L351.66,430.58 L352.15,430.00 L352.64,430.51 L353.13,432.03 L353.62,432.65 L354.11,432.91 L354.60,432.89 L355.09,431.42 L355.58,430.68 L356.07,430.49 L356.56,429.24 L357.05,428.65 L357.54,428.87 L358.03,428.61 L358.52,428.88 L359.01,429.42 L359.50,428.40 L359.98,428.23 L360.47,428.99 L360.96,428.09 L361.45,426.91 L361.94,426.46 L362.43,426.54 L362.92,426.22 L363.41,425.95 L363.90,425.92 L364.39,425.22 L364.88,424.68 L365.37,424.64 L365.86,424.31 L366.35,423.33 L366.84,423.14 L367.33,423.41 L367.82,422.55 L368.31,421.20 L368.80,421.66 L369.29,423.00 L369.78,422.27 L370.26,421.57 L370.75,422.36 L371.24,422.15 L371.73,421.43 L372.22,421.57 L372.71,420.51 L373.20,420.08 L373.69,421.40 L374.18,421.68 L374.67,421.04 L375.16,419.32 L375.65,417.07 L376.14,417.40 L376.63,419.56 L377.12,419.26 L377.61,416.94 L378.10,415.80 L378.59,416.57 L379.08,417.29 L379.57,416.72 L380.06,416.31 L380.55,416.51 L381.03,416.24 L381.52,415.23 L382.01,414.68 L382.50,414.80 L382.99,415.23 L383.48,415.55 L383.97,414.33 L384.46,412.87 L384.95,413.62 L385.44,413.86 L385.93,412.16 L386.42,410.79 L386.91,410.49 L387.40,411.64 L387.89,413.26 L388.38,413.03 L388.73,412.53 L388.73,392.17 L388.73,419.32 L388.73,411.96 L388.87,410.44 L389.36,409.45 L389.85,411.47 L390.34,411.91 L390.83,411.01 L391.31,411.03 L391.80,410.73 L392.29,409.84 L392.78,408.51 L393.27,407.45 L393.76,407.06 L394.25,406.79 L394.74,406.72 L395.23,407.20 L395.72,408.22 L396.21,407.28 L396.70,405.14 L397.19,404.34 L397.68,403.52 L398.17,402.51 L398.66,402.03 L399.15,402.00 L399.64,402.49 L400.13,403.58 L400.62,404.54 L401.11,404.69 L401.60,404.75 L402.08,404.92 L402.57,404.49 L403.06,403.70 L403.55,403.46 L404.04,404.48 L404.53,405.29 L405.02,404.26 L405.51,402.86 L406.00,402.22 L406.49,402.81 L406.98,404.10 L407.47,403.54 L407.96,401.79 L408.45,401.25 L408.94,400.76 L409.43,401.31 L409.92,403.19 L410.41,403.41 L410.90,402.81 L411.39,402.72 L411.88,402.85 L412.36,403.18 L412.85,404.08 L413.34,404.97 L413.83,404.82 L414.32,404.40 L414.81,404.18 L415.30,403.88 L415.79,403.15 L416.28,402.76 L416.77,403.13 L417.26,403.47 L417.75,403.91 L418.24,404.37 L418.73,404.53 L419.22,404.34 L419.71,403.92 L420.20,403.65 L420.69,404.17 L421.18,404.64 L421.67,404.30 L422.16,404.78 L422.64,405.26 L423.13,404.97 L423.62,404.72 L424.11,404.55 L424.60,405.16 L425.09,405.88 L425.58,405.02 L426.07,403.66 L426.56,404.37 L427.05,405.47 L427.54,405.68 L428.03,405.12 L428.52,404.39 L429.01,404.97 L429.50,404.69 L429.99,404.67 L430.48,405.63 L430.97,404.73 L431.46,403.66 L431.95,403.95 L432.44,404.10 L432.93,403.98 L433.41,404.32 L433.90,404.75 L434.39,404.79 L434.88,405.06 L435.37,405.38 L435.86,405.18 L436.35,405.84 L436.84,406.31 L437.33,404.81 L437.82,403.43 L438.31,404.16 L438.80,405.26 L439.29,405.40 L439.78,405.77 L440.27,405.94 L440.76,406.69 L441.25,407.63 L441.74,407.09 L442.23,406.98 L442.72,407.59 L443.21,408.18 L443.69,408.36 L444.18,407.20 L444.67,405.15 L445.16,404.46 L445.65,405.12 L446.14,405.52 L446.63,406.95 L447.12,408.10 L447.61,406.98 L448.10,406.28 L448.59,406.64 L449.08,406.33 L449.57,406.46 L450.06,407.88 L450.55,408.53 L451.04,407.78 L451.53,407.35 L452.02,406.95 L452.51,405.62 L453.00,405.39 L453.49,406.48 L453.98,406.39 L454.46,405.86 L454.95,405.87 L455.44,406.34 L455.93,407.00 L456.42,406.16 L456.91,405.16 L457.40,406.31 L457.89,407.57 L458.38,406.91 L458.87,406.26 L459.36,407.19 L459.85,407.52 L460.34,407.36 L460.83,408.15 L461.32,408.12 L461.81,408.36 L462.30,408.61 L462.79,407.48 L463.28,407.89 L463.77,408.84 L464.26,408.47 L464.74,409.27 L465.23,410.49 L465.72,409.73 L466.21,408.29 L466.70,407.82 L467.19,408.16 L467.68,408.33 L468.17,408.36 L468.66,408.21 L469.15,407.81 L469.64,408.08 L470.13,408.34 L470.62,408.79 L471.11,409.94 L471.60,409.43 L472.09,407.93 L472.58,408.31 L473.07,409.12 L473.56,409.25 L474.05,409.41 L474.54,409.56 L475.03,409.69 L475.51,410.12 L476.00,410.11 L476.49,409.26 L476.98,410.09 L477.47,411.25 L477.96,410.66 L478.45,410.04 L478.94,410.26 L479.43,410.53 L479.92,408.45 L480.41,407.18 L480.90,409.34 L481.39,410.37 L481.88,410.06 L482.37,410.81 L482.86,412.06 L483.35,411.72 L483.84,410.33 L484.33,409.40 L484.82,409.23 L485.31,410.18 L485.79,409.32 L486.28,408.23 L486.77,410.29 L487.26,411.65 L487.75,411.02 L488.24,410.33 L488.73,409.92 L489.22,410.58 L489.71,411.27 L490.20,409.84 L490.69,407.99 L491.18,409.89 L491.67,412.83 L492.16,412.67 L492.65,411.58 L493.14,411.00 L493.63,410.19 L494.12,409.21 L494.61,409.23 L495.10,410.04 L495.59,410.79 L496.07,411.16 L496.56,410.58 L497.05,409.97 L497.54,410.63 L498.03,411.06 L498.52,410.56 L499.01,410.95 L499.50,411.99 L499.99,412.65 L500.48,412.84 L500.97,413.76 L501.46,414.05 L501.95,411.97 L502.44,411.11 L502.93,411.47 L503.42,411.04 L503.91,411.09 L504.40,412.65 L504.89,414.19 L505.38,413.21 L505.87,411.20 L506.36,409.91 L506.84,409.48 L507.33,410.87 L507.82,413.72 L508.31,414.57 L508.80,412.93 L509.29,411.87 L509.78,411.81 L510.27,412.23 L510.76,413.17 L511.25,413.70 L511.74,413.20 L512.23,412.84 L512.72,412.54 L513.21,412.39 L513.70,412.70 L514.19,412.75 L514.68,412.56 L515.17,412.20 L515.66,412.58 L516.15,413.64 L516.64,413.17 L517.12,412.03 L517.61,412.19 L518.10,412.34 L518.59,412.83 L519.08,414.02 L519.57,414.25 L520.06,413.58 L520.55,412.98 L521.04,413.46 L521.53,414.66 L522.02,414.68" fill="none" stroke="#000000" stroke-width="1.90" stroke-linejoin="round"/>
<path d="M332.08,430.65 L332.57,430.76 L333.06,430.32 L333.55,429.49 L334.04,428.59 L334.53,427.94 L335.02,427.53 L335.51,427.25 L336.00,426.96 L336.49,426.64 L336.98,426.22 L337.47,425.62 L337.96,424.95 L338.45,424.56 L338.93,424.88 L339.42,426.04 L339.91,427.69 L340.40,429.38 L340.89,430.61 L341.38,431.23 L341.87,431.29 L342.36,431.02 L342.85,430.65 L343.34,430.27 L343.83,429.83 L344.32,429.30 L344.81,428.71 L345.30,428.28 L345.79,428.09 L346.28,428.17 L346.77,428.39 L347.26,429.29 L347.75,431.60 L348.24,431.45 L348.73,430.29 L349.21,428.93 L349.70,427.98 L350.19,427.05 L350.68,424.86 L351.17,422.39 L351.66,421.85 L352.15,421.16 L352.64,419.23 L353.13,417.67 L353.62,416.02 L354.11,414.67 L354.60,414.80 L355.09,414.59 L355.58,412.36 L356.07,410.17 L356.56,409.07 L357.05,407.38 L357.54,406.06 L358.03,405.20 L358.52,403.02 L359.01,401.01 L359.50,400.12 L359.98,399.17 L360.47,397.57 L360.96,396.40 L361.45,396.65 L361.94,396.37 L362.43,395.54 L362.92,395.82 L363.41,395.70 L363.90,393.86 L364.39,391.46 L364.88,390.70 L365.37,391.53 L365.86,391.04 L366.35,388.83 L366.84,387.05 L367.33,385.62 L367.82,383.78 L368.31,382.51 L368.80,382.04 L369.29,381.97 L369.78,382.40 L370.26,381.72 L370.75,379.51 L371.24,377.66 L371.73,376.64 L372.22,375.80 L372.71,374.85 L373.20,375.00 L373.69,375.90 L374.18,374.80 L374.67,372.49 L375.16,371.96 L375.65,371.76 L376.14,370.29 L376.63,369.66 L377.12,369.21 L377.61,367.76 L378.10,367.35 L378.59,367.28 L379.08,365.86 L379.57,365.31 L380.06,365.57 L380.55,365.69 L381.03,365.82 L381.52,364.35 L382.01,362.75 L382.50,362.38 L382.99,361.75 L383.48,360.78 L383.97,359.57 L384.46,358.57 L384.95,358.65 L385.44,358.50 L385.93,356.85 L386.42,355.86 L386.91,356.58 L387.40,357.47 L387.89,357.34 L388.03,357.39 L388.03,303.09 L388.03,365.31 L388.03,356.82 L388.38,355.78 L388.87,354.65 L389.36,354.87 L389.85,356.18 L390.34,356.79 L390.83,355.63 L391.31,355.61 L391.80,357.30 L392.29,357.68 L392.78,356.57 L393.27,355.10 L393.76,354.37 L394.25,355.93 L394.74,357.16 L395.23,357.60 L395.72,358.63 L396.21,357.84 L396.70,356.43 L397.19,357.41 L397.68,359.23 L398.17,359.61 L398.66,358.70 L399.15,358.43 L399.64,359.43 L400.13,360.26 L400.62,360.31 L401.11,360.77 L401.60,361.43 L402.08,362.24 L402.57,363.92 L403.06,364.19 L403.55,363.13 L404.04,363.19 L404.53,363.57 L405.02,362.62 L405.51,361.81 L406.00,362.28 L406.49,362.64 L406.98,362.57 L407.47,363.49 L407.96,364.75 L408.45,364.13 L408.94,363.65 L409.43,364.73 L409.92,365.09 L410.41,365.35 L410.90,366.18 L411.39,366.19 L411.88,365.38 L412.36,364.91 L412.85,365.74 L413.34,366.92 L413.83,366.59 L414.32,365.48 L414.81,365.00 L415.30,365.08 L415.79,365.13 L416.28,365.13 L416.77,366.13 L417.26,367.44 L417.75,367.90 L418.24,369.08 L418.73,370.70 L419.22,369.39 L419.71,367.44 L420.20,369.22 L420.69,371.01 L421.18,369.37 L421.67,367.72 L422.16,368.15 L422.64,368.89 L423.13,369.38 L423.62,369.11 L424.11,368.27 L424.60,368.65 L425.09,369.36 L425.58,369.00 L426.07,369.16 L426.56,370.15 L427.05,370.47 L427.54,370.84 L428.03,371.03 L428.52,370.62 L429.01,371.33 L429.50,372.89 L429.99,373.98 L430.48,373.07 L430.97,371.83 L431.46,372.41 L431.95,372.72 L432.44,372.52 L432.93,372.25 L433.41,372.55 L433.90,373.64 L434.39,373.81 L434.88,373.43 L435.37,373.48 L435.86,373.87 L436.35,373.94 L436.84,373.13 L437.33,372.63 L437.82,373.70 L438.31,374.79 L438.80,374.66 L439.29,374.45 L439.78,373.82 L440.27,373.51 L440.76,374.73 L441.25,375.96 L441.74,376.52 L442.23,376.66 L442.72,375.87 L443.21,374.85 L443.69,375.56 L444.18,375.94 L444.67,375.72 L445.16,376.65 L445.65,376.26 L446.14,375.54 L446.63,376.35 L447.12,377.34 L447.61,377.82 L448.10,377.62 L448.59,378.22 L449.08,379.76 L449.57,379.40 L450.06,378.52 L450.55,379.53 L451.04,380.37 L451.53,379.92 L452.02,379.17 L452.51,377.95 L453.00,377.49 L453.49,379.35 L453.98,381.02 L454.46,380.84 L454.95,380.18 L455.44,378.83 L455.93,378.01 L456.42,378.16 L456.91,377.64 L457.40,377.83 L457.89,379.54 L458.38,380.88 L458.87,381.42 L459.36,381.35 L459.85,380.41 L460.34,379.72 L460.83,379.62 L461.32,381.07 L461.81,382.44 L462.30,381.19 L462.79,379.65 L463.28,380.15 L463.77,382.17 L464.26,382.94 L464.74,382.67 L465.23,383.46 L465.72,384.20 L466.21,382.65 L466.70,380.89 L467.19,382.35 L467.68,383.92 L468.17,383.53 L468.66,382.48 L469.15,381.45 L469.64,381.38 L470.13,382.08 L470.62,382.83 L471.11,383.50 L471.60,384.59 L472.09,384.27 L472.58,382.79 L473.07,382.88 L473.56,383.35 L474.05,383.86 L474.54,384.36 L475.03,384.94 L475.51,385.55 L476.00,384.87 L476.49,383.84 L476.98,383.50 L477.47,383.47 L477.96,383.57 L478.45,384.19 L478.94,385.68 L479.43,386.96 L479.92,385.79 L480.41,384.11 L480.90,384.25 L481.39,384.81 L481.88,385.67 L482.37,385.43 L482.86,384.13 L483.35,384.02 L483.84,384.27 L484.33,385.06 L484.82,387.09 L485.31,388.20 L485.79,387.84 L486.28,388.63 L486.77,388.52 L487.26,386.17 L487.75,385.28 L488.24,385.91 L488.73,386.59 L489.22,386.81 L489.71,386.67 L490.20,386.84 L490.69,386.84 L491.18,387.77 L491.67,388.88 L492.16,388.14 L492.65,387.49 L493.14,386.84 L493.63,386.89 L494.12,387.88 L494.61,387.46 L495.10,387.51 L495.59,388.82 L496.07,389.15 L496.56,389.64 L497.05,390.70 L497.54,390.03 L498.03,389.11 L498.52,389.97 L499.01,390.81 L499.50,389.56 L499.99,387.62 L500.48,387.68 L500.97,389.38 L501.46,390.34 L501.95,390.05 L502.44,390.09 L502.93,390.62 L503.42,390.31 L503.91,389.32 L504.40,390.19 L504.89,391.57 L505.38,390.56 L505.87,389.49 L506.36,389.58 L506.84,390.05 L507.33,389.75 L507.82,390.59 L508.31,392.16 L508.80,390.94 L509.29,391.15 L509.78,393.91 L510.27,394.31 L510.76,392.81 L511.25,391.92 L511.74,391.20 L512.23,391.26 L512.72,391.51 L513.21,391.14 L513.70,391.21 L514.19,391.14 L514.68,391.15 L515.17,391.45 L515.66,391.37 L516.15,392.18 L516.64,393.65 L517.12,393.67 L517.61,393.29 L518.10,394.05 L518.59,394.86 L519.08,394.22 L519.57,393.18 L520.06,392.45 L520.55,392.39 L521.04,393.66 L521.53,394.58 L522.02,394.48" fill="none" stroke="#b8403a" stroke-width="1.90" stroke-linejoin="round"/>
<path d="M332.08,428.72 L332.57,429.34 L333.06,430.06 L333.55,430.58 L334.04,430.62 L334.53,430.12 L335.02,429.36 L335.51,428.70 L336.00,428.30 L336.49,428.11 L336.98,427.85 L337.47,427.42 L337.96,426.89 L338.45,426.49 L338.93,426.46 L339.42,426.92 L339.91,427.91 L340.40,429.21 L340.89,430.40 L341.38,431.02 L341.87,431.09 L342.36,430.76 L342.85,430.28 L343.34,429.82 L343.83,429.51 L344.32,429.52 L344.81,429.82 L345.30,430.31 L345.79,430.76 L346.28,431.04 L346.77,431.14 L347.26,431.50 L347.47,428.93 L347.47,444.48 L347.47,430.34 L347.75,430.71 L348.24,429.97 L348.73,427.28 L349.21,423.67 L349.70,421.34 L350.19,420.12 L350.68,417.29 L351.17,413.20 L351.66,409.79 L352.15,405.98 L352.64,401.31 L353.13,396.95 L353.62,393.42 L354.11,390.31 L354.60,387.60 L355.09,384.87 L355.58,380.87 L356.07,377.36 L356.56,375.23 L357.05,373.08 L357.54,370.67 L358.03,368.06 L358.52,365.76 L359.01,364.01 L359.50,361.93 L359.98,360.10 L360.47,359.49 L360.96,358.76 L361.45,356.85 L361.94,354.94 L362.43,354.02 L362.92,352.59 L363.41,349.93 L363.90,347.98 L364.39,348.50 L364.88,349.66 L365.37,348.58 L365.86,347.02 L366.35,345.90 L366.84,343.44 L367.33,341.26 L367.82,341.47 L368.31,341.32 L368.80,339.76 L369.29,338.88 L369.78,338.67 L370.26,338.25 L370.75,337.04 L371.24,336.60 L371.73,337.51 L372.22,336.36 L372.71,333.33 L373.20,332.28 L373.69,333.09 L374.18,333.15 L374.67,332.54 L375.16,332.18 L375.65,330.62 L376.14,328.84 L376.63,328.50 L377.12,328.54 L377.61,328.74 L378.10,328.13 L378.59,327.92 L379.08,329.15 L379.57,329.16 L380.06,328.18 L380.55,326.99 L381.03,325.91 L381.52,326.86 L382.01,328.39 L382.50,328.38 L382.99,328.24 L383.48,327.12 L383.97,325.79 L384.46,326.45 L384.95,326.91 L385.44,326.32 L385.93,325.39 L386.42,325.07 L386.91,325.49 L387.40,325.84 L387.89,327.26 L388.24,325.72 L388.24,285.28 L388.24,334.20 L388.24,328.54 L388.38,330.28 L388.87,332.94 L389.36,333.37 L389.85,332.76 L390.34,333.92 L390.83,335.42 L391.31,334.35 L391.80,333.05 L392.29,333.93 L392.78,334.68 L393.27,335.10 L393.76,336.27 L394.25,337.25 L394.74,337.61 L395.23,338.62 L395.72,338.54 L396.21,336.32 L396.70,336.41 L397.19,338.31 L397.68,339.53 L398.17,339.80 L398.66,339.42 L399.15,339.73 L399.64,340.80 L400.13,341.72 L400.62,340.68 L401.11,339.89 L401.60,341.04 L402.08,341.77 L402.57,341.86 L403.06,341.65 L403.55,342.00 L404.04,343.49 L404.53,344.43 L405.02,344.42 L405.51,344.89 L406.00,345.43 L406.49,345.15 L406.98,345.60 L407.47,346.73 L407.96,345.67 L408.45,343.98 L408.94,345.10 L409.43,345.89 L409.92,345.71 L410.41,348.36 L410.90,351.39 L411.39,351.89 L411.88,350.86 L412.36,349.16 L412.85,349.42 L413.34,350.67 L413.83,350.49 L414.32,350.74 L414.81,350.66 L415.30,350.14 L415.79,350.54 L416.28,351.11 L416.77,351.98 L417.26,352.69 L417.75,352.01 L418.24,351.10 L418.73,350.39 L419.22,349.90 L419.71,350.89 L420.20,351.70 L420.69,351.91 L421.18,353.63 L421.67,356.18 L422.16,356.40 L422.64,354.37 L423.13,353.61 L423.62,354.42 L424.11,355.26 L424.60,354.77 L425.09,354.08 L425.58,355.59 L426.07,357.43 L426.56,356.93 L427.05,356.38 L427.54,358.57 L428.03,361.00 L428.52,361.21 L429.01,359.60 L429.50,357.91 L429.99,358.19 L430.48,359.66 L430.97,360.19 L431.46,359.66 L431.95,359.59 L432.44,360.04 L432.93,360.37 L433.41,359.80 L433.90,359.83 L434.39,361.43 L434.88,361.78 L435.37,361.17 L435.86,360.80 L436.35,360.82 L436.84,360.84 L437.33,360.79 L437.82,360.87 L438.31,361.55 L438.80,362.44 L439.29,362.16 L439.78,362.10 L440.27,361.78 L440.76,360.91 L441.25,360.60 L441.74,362.04 L442.23,364.91 L442.72,364.98 L443.21,363.88 L443.69,364.62 L444.18,364.09 L444.67,362.62 L445.16,363.48 L445.65,364.98 L446.14,364.65 L446.63,364.31 L447.12,364.97 L447.61,365.43 L448.10,366.16 L448.59,366.94 L449.08,366.89 L449.57,366.72 L450.06,366.19 L450.55,366.31 L451.04,366.95 L451.53,366.51 L452.02,366.42 L452.51,366.71 L453.00,366.84 L453.49,367.55 L453.98,367.97 L454.46,367.88 L454.95,367.49 L455.44,368.19 L455.93,369.95 L456.42,370.57 L456.91,370.67 L457.40,369.97 L457.89,368.97 L458.38,368.62 L458.87,368.34 L459.36,369.95 L459.85,372.30 L460.34,371.25 L460.83,368.46 L461.32,368.10 L461.81,370.20 L462.30,370.81 L462.79,370.32 L463.28,371.51 L463.77,371.60 L464.26,370.92 L464.74,371.59 L465.23,372.50 L465.72,371.99 L466.21,371.23 L466.70,372.48 L467.19,373.48 L467.68,372.82 L468.17,372.40 L468.66,372.99 L469.15,373.24 L469.64,372.82 L470.13,373.43 L470.62,374.17 L471.11,373.69 L471.60,373.39 L472.09,374.29 L472.58,375.54 L473.07,375.17 L473.56,373.68 L474.05,373.15 L474.54,373.68 L475.03,373.99 L475.51,373.62 L476.00,372.97 L476.49,372.89 L476.98,374.24 L477.47,375.37 L477.96,376.10 L478.45,377.01 L478.94,376.69 L479.43,376.22 L479.92,376.00 L480.41,375.71 L480.90,376.64 L481.39,377.78 L481.88,377.82 L482.37,377.54 L482.86,377.04 L483.35,377.09 L483.84,377.47 L484.33,376.48 L484.82,376.09 L485.31,376.89 L485.79,377.78 L486.28,378.97 L486.77,378.60 L487.26,378.22 L487.75,379.49 L488.24,379.88 L488.73,378.94 L489.22,377.50 L489.71,377.51 L490.20,378.82 L490.69,380.23 L491.18,380.89 L491.67,379.45 L492.16,378.11 L492.65,379.20 L493.14,380.90 L493.63,380.57 L494.12,381.09 L494.61,382.61 L495.10,381.80 L495.59,380.21 L496.07,379.58 L496.56,380.15 L497.05,380.72 L497.54,380.56 L498.03,380.97 L498.52,381.94 L499.01,382.11 L499.50,381.39 L499.99,380.29 L500.48,379.94 L500.97,380.42 L501.46,380.29 L501.95,380.25 L502.44,381.08 L502.93,382.59 L503.42,383.32 L503.91,382.43 L504.40,381.59 L504.89,381.55 L505.38,381.66 L505.87,381.59 L506.36,381.64 L506.84,382.46 L507.33,383.09 L507.82,382.80 L508.31,382.12 L508.80,381.81 L509.29,382.72 L509.78,383.58 L510.27,383.31 L510.76,382.47 L511.25,382.28 L511.74,383.50 L512.23,385.42 L512.72,385.80 L513.21,384.31 L513.70,382.95 L514.19,383.60 L514.68,385.47 L515.17,386.22 L515.66,386.61 L516.15,386.42 L516.64,385.07 L517.12,384.48 L517.61,385.42 L518.10,386.14 L518.59,385.31 L519.08,383.40 L519.57,383.52 L520.06,385.94 L520.55,386.70 L521.04,385.71 L521.53,384.82 L522.02,385.03" fill="none" stroke="#8fb046" stroke-width="1.90" stroke-linejoin="round"/>
<path d="M332.08,428.25 L332.57,428.25 L333.06,428.44 L333.55,428.76 L334.04,429.19 L334.53,429.65 L335.02,429.99 L335.51,430.08 L336.00,429.87 L336.49,429.44 L336.98,428.99 L337.47,428.63 L337.96,428.41 L338.45,428.37 L338.93,428.58 L339.42,429.09 L339.91,429.95 L340.40,431.01 L340.89,432.06 L341.38,432.87 L341.87,433.23 L342.36,433.04 L342.85,432.29 L343.34,431.11 L343.83,429.86 L344.32,428.69 L344.81,427.78 L345.30,427.15 L345.79,426.93 L346.28,427.20 L346.77,427.79 L347.26,428.84 L347.47,428.93 L347.47,459.19 L347.47,430.34 L347.75,430.76 L348.24,428.11 L348.73,423.58 L349.21,416.65 L349.70,406.38 L350.19,397.27 L350.68,390.20 L351.17,382.79 L351.66,376.28 L352.15,370.16 L352.64,365.56 L353.13,362.30 L353.62,358.23 L354.11,354.22 L354.60,349.89 L355.09,345.74 L355.58,342.82 L356.07,341.01 L356.56,339.58 L357.05,336.70 L357.54,333.10 L358.03,330.71 L358.52,329.17 L359.01,327.13 L359.50,326.25 L359.98,326.98 L360.47,326.17 L360.96,324.86 L361.45,325.16 L361.94,324.58 L362.43,322.70 L362.92,322.22 L363.41,322.49 L363.90,322.38 L364.39,322.48 L364.88,322.55 L365.37,321.95 L365.86,320.58 L366.35,319.96 L366.84,320.69 L367.33,320.96 L367.82,321.15 L368.31,321.25 L368.80,319.96 L369.29,319.35 L369.78,319.66 L370.26,319.40 L370.75,319.01 L371.24,318.00 L371.73,317.79 L372.22,319.72 L372.71,321.00 L373.20,320.68 L373.69,320.82 L374.18,320.74 L374.67,319.13 L375.16,317.92 L375.65,318.52 L376.14,319.94 L376.63,320.85 L377.12,320.82 L377.61,320.15 L378.10,319.30 L378.59,319.18 L379.08,319.20 L379.57,319.04 L380.06,318.69 L380.55,318.00 L381.03,318.23 L381.52,318.85 L382.01,318.52 L382.50,317.51 L382.99,317.04 L383.48,317.04 L383.97,317.17 L384.46,318.05 L384.95,319.03 L385.44,318.87 L385.93,318.18 L386.42,318.78 L386.91,318.89 L387.40,318.12 L387.89,318.93 L388.38,319.40 L388.87,319.02 L389.36,319.34 L389.85,320.33 L390.34,321.98 L390.76,320.06 L390.76,293.76 L390.76,334.20 L390.76,324.30 L390.83,323.06 L391.31,324.07 L391.80,324.82 L392.29,325.34 L392.78,326.92 L393.27,328.03 L393.76,327.72 L394.25,327.75 L394.74,328.90 L395.23,329.68 L395.72,329.18 L396.21,329.21 L396.70,331.04 L397.19,332.46 L397.68,332.01 L398.17,331.86 L398.66,332.73 L399.15,333.99 L399.64,335.08 L400.13,334.78 L400.62,334.17 L401.11,334.32 L401.60,334.65 L402.08,335.63 L402.57,336.71 L403.06,337.51 L403.55,338.80 L404.04,338.63 L404.53,337.32 L405.02,338.42 L405.51,340.24 L406.00,340.20 L406.49,340.61 L406.98,341.36 L407.47,341.13 L407.96,340.66 L408.45,341.22 L408.94,343.06 L409.43,343.67 L409.92,344.09 L410.41,344.49 L410.90,342.76 L411.39,342.33 L411.88,344.00 L412.36,344.75 L412.85,344.97 L413.34,345.50 L413.83,345.75 L414.32,346.02 L414.81,346.31 L415.30,345.74 L415.79,344.94 L416.28,345.63 L416.77,347.84 L417.26,349.04 L417.75,349.19 L418.24,348.76 L418.73,348.64 L419.22,350.04 L419.71,351.45 L420.20,351.36 L420.69,349.64 L421.18,348.23 L421.67,348.61 L422.16,350.30 L422.64,351.63 L423.13,352.28 L423.62,353.27 L424.11,352.94 L424.60,351.54 L425.09,351.55 L425.58,352.11 L426.07,351.91 L426.56,350.99 L427.05,351.39 L427.54,353.27 L428.03,354.22 L428.52,353.69 L429.01,352.38 L429.50,352.47 L429.99,352.92 L430.48,352.56 L430.97,354.13 L431.46,356.71 L431.95,357.34 L432.44,356.09 L432.93,355.49 L433.41,355.87 L433.90,355.30 L434.39,354.92 L434.88,355.45 L435.37,355.07 L435.86,354.68 L436.35,355.98 L436.84,357.15 L437.33,356.90 L437.82,355.90 L438.31,355.78 L438.80,357.94 L439.29,359.38 L439.78,358.46 L440.27,358.15 L440.76,358.53 L441.25,358.29 L441.74,357.88 L442.23,358.27 L442.72,359.74 L443.21,360.38 L443.69,360.12 L444.18,359.66 L444.67,358.81 L445.16,359.06 L445.65,359.37 L446.14,358.91 L446.63,359.07 L447.12,359.32 L447.61,359.83 L448.10,360.88 L448.59,361.37 L449.08,361.86 L449.57,362.56 L450.06,362.04 L450.55,361.08 L451.04,361.72 L451.53,361.76 L452.02,361.07 L452.51,362.00 L453.00,362.14 L453.49,361.26 L453.98,361.80 L454.46,363.15 L454.95,363.55 L455.44,362.93 L455.93,362.35 L456.42,362.56 L456.91,362.94 L457.40,362.36 L457.89,361.79 L458.38,362.33 L458.87,363.61 L459.36,364.51 L459.85,364.86 L460.34,365.03 L460.83,364.47 L461.32,364.79 L461.81,366.26 L462.30,366.62 L462.79,365.89 L463.28,365.69 L463.77,366.23 L464.26,366.46 L464.74,366.59 L465.23,366.77 L465.72,366.53 L466.21,365.71 L466.70,365.07 L467.19,365.85 L467.68,366.37 L468.17,365.36 L468.66,365.56 L469.15,366.57 L469.64,366.90 L470.13,367.92 L470.62,368.89 L471.11,368.11 L471.60,366.89 L472.09,367.22 L472.58,367.95 L473.07,368.43 L473.56,368.71 L474.05,368.22 L474.54,367.28 L475.03,367.44 L475.51,368.42 L476.00,368.10 L476.49,368.98 L476.98,370.38 L477.47,368.98 L477.96,367.66 L478.45,368.33 L478.94,369.45 L479.43,370.94 L479.92,371.96 L480.41,371.12 L480.90,370.88 L481.39,371.55 L481.88,371.58 L482.37,370.74 L482.86,370.25 L483.35,371.98 L483.84,373.87 L484.33,374.21 L484.82,373.19 L485.31,372.21 L485.79,372.51 L486.28,372.61 L486.77,372.02 L487.26,371.66 L487.75,371.83 L488.24,373.37 L488.73,374.78 L489.22,374.62 L489.71,374.03 L490.20,373.59 L490.69,374.02 L491.18,374.37 L491.67,374.81 L492.16,375.65 L492.65,374.94 L493.14,374.14 L493.63,374.80 L494.12,375.08 L494.61,375.12 L495.10,375.67 L495.59,375.54 L496.07,375.24 L496.56,375.58 L497.05,375.78 L497.54,376.28 L498.03,377.38 L498.52,376.72 L499.01,374.44 L499.50,374.34 L499.99,375.54 L500.48,375.34 L500.97,374.95 L501.46,375.70 L501.95,377.47 L502.44,379.00 L502.93,379.00 L503.42,377.52 L503.91,375.79 L504.40,375.83 L504.89,377.43 L505.38,377.76 L505.87,376.26 L506.36,376.28 L506.84,377.98 L507.33,378.33 L507.82,378.34 L508.31,379.00 L508.80,379.33 L509.29,379.33 L509.78,379.83 L510.27,380.47 L510.76,379.61 L511.25,378.44 L511.74,378.24 L512.23,378.54 L512.72,379.10 L513.21,378.80 L513.70,378.40 L514.19,379.43 L514.68,379.71 L515.17,379.29 L515.66,380.54 L516.15,381.98 L516.64,381.99 L517.12,381.59 L517.61,381.55 L518.10,381.20 L518.59,380.35 L519.08,380.19 L519.57,381.00 L520.06,381.36 L520.55,380.66 L521.04,379.70 L521.53,380.01 L522.02,381.74" fill="none" stroke="#1b3868" stroke-width="1.90" stroke-linejoin="round"/>
<path d="M332.08,424.80 L332.57,424.45 L333.06,424.77 L333.55,425.71 L334.04,426.93 L334.53,427.92 L335.02,428.42 L335.51,428.44 L336.00,428.08 L336.49,427.50 L336.98,426.79 L337.47,426.05 L337.96,425.63 L338.45,425.75 L338.93,426.48 L339.42,427.54 L339.91,428.48 L340.40,428.99 L340.89,429.02 L341.38,428.57 L341.87,427.75 L342.36,426.62 L342.85,425.43 L343.34,424.58 L343.83,424.40 L344.32,424.82 L344.81,425.52 L345.30,426.03 L345.79,426.19 L346.28,426.18 L346.77,426.41 L347.26,427.85 L347.47,428.08 L347.47,473.61 L347.47,428.93 L347.75,429.32 L348.24,423.27 L348.73,412.55 L349.21,397.73 L349.70,383.66 L350.19,372.05 L350.68,363.40 L351.17,358.14 L351.66,354.46 L352.15,350.16 L352.64,344.97 L353.13,340.26 L353.62,335.05 L354.11,329.42 L354.60,326.00 L355.09,324.01 L355.58,322.78 L356.07,321.99 L356.56,319.92 L357.05,319.09 L357.54,319.05 L358.03,317.33 L358.52,315.81 L359.01,315.33 L359.50,316.01 L359.98,317.27 L360.47,317.19 L360.96,316.48 L361.45,315.90 L361.94,315.04 L362.43,314.23 L362.92,314.75 L363.41,315.48 L363.90,314.34 L364.39,313.53 L364.88,315.09 L365.37,316.80 L365.86,316.63 L366.35,316.46 L366.84,316.85 L367.33,316.67 L367.82,316.11 L368.31,314.87 L368.80,314.39 L369.29,315.56 L369.78,316.21 L370.26,315.77 L370.75,315.89 L371.24,315.54 L371.73,314.80 L372.22,315.86 L372.71,316.23 L373.20,314.21 L373.69,312.50 L374.18,312.56 L374.67,312.76 L375.16,313.03 L375.65,313.47 L376.14,312.39 L376.63,312.43 L377.12,314.28 L377.61,315.49 L378.10,316.61 L378.59,316.57 L379.08,316.00 L379.57,316.36 L380.06,315.97 L380.55,315.46 L381.03,315.40 L381.52,314.52 L382.01,314.17 L382.50,314.94 L382.99,314.79 L383.48,314.77 L383.97,316.17 L384.46,317.75 L384.95,317.94 L385.44,315.83 L385.93,314.25 L386.42,313.80 L386.91,313.00 L387.40,313.29 L387.89,316.18 L388.38,320.67 L388.87,324.70 L389.36,326.55 L389.85,326.78 L390.34,327.47 L390.83,328.17 L391.31,328.05 L391.80,328.32 L392.29,329.42 L392.78,329.18 L393.27,328.09 L393.76,327.48 L394.25,327.72 L394.74,328.81 L395.23,329.94 L395.72,329.85 L396.21,328.74 L396.70,328.94 L397.19,330.53 L397.68,332.31 L398.17,332.69 L398.66,331.94 L399.15,332.23 L399.64,332.21 L400.13,332.74 L400.62,335.12 L401.11,335.85 L401.60,334.87 L402.08,335.29 L402.57,336.61 L403.06,337.13 L403.55,337.55 L404.04,337.74 L404.53,337.37 L405.02,337.09 L405.51,336.95 L406.00,337.01 L406.49,337.84 L406.98,339.26 L407.47,340.33 L407.96,341.82 L408.45,343.03 L408.94,342.35 L409.43,340.99 L409.92,341.63 L410.41,342.48 L410.90,341.22 L411.39,341.05 L411.88,342.50 L412.36,343.24 L412.85,343.88 L413.34,343.58 L413.83,342.54 L414.32,343.59 L414.81,344.89 L415.30,345.31 L415.79,346.03 L416.28,346.13 L416.77,346.11 L417.26,347.10 L417.75,347.77 L418.24,347.07 L418.73,346.62 L419.22,347.72 L419.71,348.18 L420.20,347.93 L420.69,348.51 L421.18,348.18 L421.67,347.25 L422.16,347.54 L422.64,347.67 L423.13,347.63 L423.62,348.96 L424.11,350.67 L424.60,351.20 L425.09,350.15 L425.58,349.66 L426.07,349.65 L426.56,348.63 L427.05,348.54 L427.54,350.12 L428.03,351.55 L428.52,351.37 L429.01,351.91 L429.50,353.29 L429.99,352.90 L430.48,353.08 L430.97,353.71 L431.46,352.00 L431.95,350.49 L432.44,351.82 L432.93,353.69 L433.41,353.48 L433.90,353.09 L434.39,353.87 L434.88,354.03 L435.37,353.94 L435.86,353.52 L436.35,353.76 L436.84,354.89 L437.33,354.54 L437.82,354.51 L438.31,356.07 L438.80,356.92 L439.29,356.41 L439.78,357.45 L440.27,359.44 L440.76,359.30 L441.25,358.60 L441.74,358.38 L442.23,358.25 L442.72,357.43 L443.21,355.88 L443.69,355.95 L444.18,356.70 L444.67,355.80 L445.16,355.42 L445.65,357.45 L446.14,359.15 L446.63,358.20 L447.12,357.79 L447.61,359.16 L448.10,359.13 L448.59,357.97 L449.08,357.67 L449.57,358.22 L450.06,359.16 L450.55,360.15 L451.04,360.24 L451.53,359.28 L452.02,359.45 L452.51,360.94 L453.00,361.05 L453.49,359.75 L453.98,360.06 L454.46,362.22 L454.95,363.14 L455.44,361.88 L455.93,360.63 L456.42,360.43 L456.91,361.66 L457.40,363.22 L457.89,363.21 L458.38,363.21 L458.87,362.43 L459.36,360.99 L459.85,361.85 L460.34,363.15 L460.83,363.26 L461.32,362.61 L461.81,362.55 L462.30,363.63 L462.79,364.37 L463.28,365.02 L463.77,365.49 L464.26,364.96 L464.74,364.45 L465.23,364.77 L465.72,365.99 L466.21,366.71 L466.70,365.75 L467.19,364.53 L467.68,364.52 L468.17,366.27 L468.66,368.21 L469.15,368.60 L469.64,367.66 L470.13,366.64 L470.62,367.06 L471.11,368.20 L471.60,367.60 L472.09,366.38 L472.58,366.84 L473.07,367.75 L473.56,368.61 L474.05,369.72 L474.54,369.86 L475.03,368.45 L475.51,366.77 L476.00,366.79 L476.49,367.75 L476.98,367.87 L477.47,367.55 L477.96,367.94 L478.45,368.94 L478.94,368.77 L479.43,368.86 L479.92,370.08 L480.41,370.02 L480.90,369.31 L481.39,369.13 L481.88,369.08 L482.37,368.94 L482.86,368.54 L483.35,368.60 L483.84,368.67 L484.33,368.83 L484.82,370.34 L485.31,371.15 L485.79,371.20 L486.28,372.35 L486.77,373.49 L487.26,372.73 L487.75,371.47 L488.24,372.39 L488.73,372.52 L489.22,370.85 L489.71,370.98 L490.20,372.40 L490.69,373.08 L491.18,372.99 L491.67,372.95 L492.16,372.90 L492.65,373.04 L493.14,373.28 L493.63,373.60 L494.12,374.30 L494.61,374.66 L495.10,374.41 L495.59,373.56 L496.07,372.89 L496.56,373.97 L497.05,374.83 L497.54,373.85 L498.03,374.04 L498.52,374.89 L499.01,374.93 L499.50,374.48 L499.99,373.98 L500.48,374.44 L500.97,374.63 L501.46,373.98 L501.95,374.52 L502.44,376.56 L502.93,378.15 L503.42,378.95 L503.91,378.43 L504.40,376.77 L504.89,376.19 L505.38,376.36 L505.87,376.25 L506.36,375.87 L506.84,375.04 L507.33,375.42 L507.82,376.48 L508.31,375.90 L508.80,376.21 L509.29,377.68 L509.78,378.02 L510.27,378.78 L510.76,379.51 L511.25,379.40 L511.74,379.50 L512.23,379.38 L512.72,379.41 L513.21,378.92 L513.70,378.07 L514.19,378.69 L514.68,379.45 L515.17,378.90 L515.66,378.08 L516.15,378.53 L516.64,379.23 L517.12,379.01 L517.61,379.56 L518.10,379.83 L518.59,378.88 L519.08,378.72 L519.57,379.26 L520.06,380.63 L520.55,381.66 L521.04,380.65 L521.53,380.01 L522.02,380.62" fill="none" stroke="#e8141a" stroke-width="1.90" stroke-linejoin="round"/>
<path d="M600.18,437.88 L600.66,437.96 L601.13,437.85 L601.61,437.59 L602.09,437.27 L602.56,437.00 L603.04,436.81 L603.52,436.66 L604.00,436.54 L604.47,436.48 L604.95,436.49 L605.43,436.56 L605.90,436.60 L606.38,436.54 L606.86,436.36 L607.34,436.09 L607.81,435.77 L608.29,435.45 L608.77,435.19 L609.24,435.05 L609.72,435.10 L610.20,435.30 L610.68,435.57 L611.15,435.83 L611.63,436.03 L612.11,436.19 L612.58,436.38 L613.06,436.66 L613.54,437.02 L614.02,437.43 L614.49,437.83 L614.97,438.18 L615.45,438.44 L615.92,438.57 L616.40,438.54 L616.88,438.35 L617.36,438.11 L617.83,437.90 L618.31,437.99 L618.79,438.58 L619.26,437.89 L619.74,436.99 L620.22,436.27 L620.70,435.58 L621.17,435.18 L621.65,434.75 L622.13,434.07 L622.61,433.04 L623.08,432.05 L623.56,431.38 L624.04,430.39 L624.51,428.99 L624.99,428.32 L625.47,427.99 L625.95,427.23 L626.42,426.72 L626.90,425.75 L627.38,424.21 L627.85,423.07 L628.33,422.20 L628.81,420.95 L629.29,419.53 L629.76,418.46 L630.24,417.16 L630.72,415.47 L631.19,414.22 L631.67,413.49 L632.15,412.69 L632.63,411.82 L633.10,411.08 L633.58,410.37 L634.06,409.37 L634.53,408.10 L635.01,407.21 L635.49,406.45 L635.97,405.44 L636.44,404.27 L636.92,403.39 L637.40,403.09 L637.87,402.57 L638.35,401.80 L638.83,400.93 L639.31,399.65 L639.78,398.70 L640.26,398.30 L640.74,397.81 L641.21,396.91 L641.69,396.08 L642.17,395.72 L642.65,395.74 L643.12,395.28 L643.60,394.16 L644.08,393.61 L644.55,393.06 L645.03,391.94 L645.51,391.49 L645.99,391.34 L646.46,390.55 L646.94,389.49 L647.42,388.96 L647.89,388.92 L648.37,388.27 L648.85,387.05 L649.33,386.36 L649.80,386.80 L650.28,387.09 L650.76,385.97 L651.24,384.37 L651.71,383.10 L652.19,382.32 L652.67,382.32 L653.14,382.17 L653.62,381.42 L654.10,381.02 L654.58,380.79 L655.05,380.15 L655.53,379.74 L656.01,380.10 L656.48,380.21 L656.96,379.80 L657.44,379.88 L657.92,380.74 L658.39,381.17 L658.87,380.99 L659.35,380.97 L659.82,381.48 L660.30,381.96 L660.78,382.82 L661.26,384.28 L661.73,385.01 L662.21,385.16 L662.69,385.60 L663.16,385.87 L663.64,386.13 L664.12,386.73 L664.60,387.41 L665.07,388.10 L665.55,388.01 L666.03,387.74 L666.50,388.29 L666.98,388.69 L667.46,389.05 L667.94,389.66 L668.41,390.00 L668.89,390.28 L669.37,390.87 L669.84,391.87 L670.32,392.79 L670.80,393.14 L671.28,393.13 L671.75,393.22 L672.23,393.78 L672.71,394.39 L673.18,394.55 L673.66,394.79 L674.14,395.22 L674.62,395.70 L675.09,396.65 L675.57,397.08 L676.05,396.90 L676.52,397.43 L677.00,398.28 L677.48,398.78 L677.96,398.97 L678.43,398.95 L678.91,399.40 L679.39,400.10 L679.87,400.45 L680.34,400.85 L680.82,401.24 L681.30,401.63 L681.77,402.03 L682.25,402.14 L682.73,402.32 L683.21,402.57 L683.68,402.94 L684.16,403.92 L684.64,404.79 L685.11,404.87 L685.59,404.80 L686.07,404.98 L686.55,405.09 L687.02,405.40 L687.50,406.02 L687.98,406.66 L688.45,406.92 L688.93,406.86 L689.41,407.41 L689.89,408.24 L690.36,408.54 L690.84,408.19 L691.32,407.73 L691.79,408.38 L692.27,409.42 L692.75,409.48 L693.23,409.23 L693.70,409.33 L694.18,409.81 L694.66,410.28 L695.13,410.50 L695.61,411.22 L696.09,411.99 L696.57,411.97 L697.04,411.61 L697.52,411.20 L698.00,411.49 L698.47,412.25 L698.95,412.43 L699.43,412.75 L699.91,413.67 L700.38,414.04 L700.86,413.59 L701.34,413.49 L701.81,414.33 L702.29,414.96 L702.77,414.66 L703.25,414.62 L703.72,414.93 L704.20,415.12 L704.68,415.19 L705.15,415.00 L705.63,415.18 L706.11,415.52 L706.59,415.55 L707.06,415.96 L707.54,416.49 L708.02,416.48 L708.50,416.74 L708.97,417.23 L709.45,417.02 L709.93,416.76 L710.40,416.72 L710.88,416.25 L711.36,416.27 L711.84,416.94 L712.31,416.86 L712.79,416.72 L713.27,417.55 L713.74,418.23 L714.22,418.45 L714.70,418.83 L715.18,418.82 L715.65,418.46 L716.13,418.39 L716.61,418.32 L717.08,418.45 L717.56,418.87 L718.04,419.01 L718.52,419.11 L718.99,419.41 L719.47,419.44 L719.95,419.23 L720.42,419.20 L720.90,419.09 L721.38,418.86 L721.86,419.23 L722.33,420.08 L722.81,420.37 L723.29,420.13 L723.76,419.82 L724.24,419.90 L724.72,420.46 L725.20,420.59 L725.67,420.15 L726.15,419.73 L726.63,420.03 L727.10,420.84 L727.58,421.20 L728.06,421.06 L728.54,420.72 L729.01,420.81 L729.49,421.33 L729.97,421.50 L730.44,421.18 L730.92,421.17 L731.40,421.71 L731.88,421.88 L732.35,421.75 L732.83,421.74 L733.31,421.98 L733.78,422.44 L734.26,422.91 L734.74,423.09 L735.22,422.48 L735.69,422.38 L736.17,423.19 L736.65,423.05 L737.13,422.51 L737.60,423.04 L738.08,423.41 L738.56,423.18 L739.03,423.15 L739.51,423.06 L739.99,423.39 L740.47,423.76 L740.94,423.62 L741.42,423.48 L741.90,423.37 L742.37,423.51 L742.85,423.59 L743.33,423.37 L743.81,423.50 L744.28,423.89 L744.76,424.16 L745.24,424.36 L745.71,424.34 L746.19,424.18 L746.67,424.28 L747.15,424.38 L747.62,424.41 L748.10,424.65 L748.58,424.63 L749.05,424.78 L749.53,425.35 L750.01,425.11 L750.49,424.78 L750.96,425.08 L751.44,425.26 L751.92,425.48 L752.39,425.69 L752.87,425.95 L753.35,426.07 L753.83,426.00 L754.30,425.79 L754.78,425.34 L755.26,425.17 L755.73,425.38 L756.21,425.42 L756.69,425.19 L757.17,425.34 L757.64,426.04 L758.12,426.42 L758.60,426.10 L759.07,425.95 L759.55,426.11 L760.03,426.04 L760.51,426.16 L760.98,426.45 L761.46,426.43 L761.94,426.41 L762.41,426.65 L762.89,426.98 L763.37,427.10 L763.85,426.72 L764.32,426.01 L764.80,425.99 L765.28,427.02 L765.76,427.70 L766.23,427.71 L766.71,427.74 L767.19,427.58 L767.66,427.50 L768.14,427.60 L768.62,427.30 L769.10,426.86 L769.57,426.55 L770.05,426.51 L770.53,426.57 L771.00,426.82 L771.48,427.52 L771.96,427.82 L772.44,427.71 L772.91,427.57 L773.39,427.60 L773.87,427.66 L774.34,427.28 L774.82,427.28 L775.30,427.73 L775.78,428.17 L776.25,429.01 L776.73,429.44 L777.21,428.79 L777.68,428.25 L778.16,428.50 L778.64,428.93 L779.12,428.56 L779.59,427.84 L780.07,427.87 L780.55,428.31 L781.02,428.52 L781.50,428.23 L781.98,427.97 L782.46,428.31 L782.93,428.75 L783.41,428.95 L783.89,429.18 L784.36,429.05 L784.84,428.84 L785.32,429.07 L785.80,428.88 L786.27,428.53 L786.75,428.66 L787.23,428.84 L787.70,429.24 L788.18,429.56 L788.66,429.31" fill="none" stroke="#000000" stroke-width="1.90" stroke-linejoin="round"/>
<path d="M600.18,436.61 L600.66,436.45 L601.13,436.44 L601.61,436.61 L602.09,436.93 L602.56,437.24 L603.04,437.39 L603.52,437.37 L604.00,437.26 L604.47,437.15 L604.95,437.11 L605.43,437.12 L605.90,437.17 L606.38,437.22 L606.86,437.24 L607.34,437.23 L607.81,437.20 L608.29,437.13 L608.77,437.02 L609.24,436.89 L609.72,436.73 L610.20,436.58 L610.68,436.48 L611.15,436.40 L611.63,436.31 L612.11,436.19 L612.58,436.06 L613.06,435.95 L613.54,435.93 L614.02,436.02 L614.49,436.25 L614.97,436.57 L615.45,436.89 L615.92,437.12 L616.40,437.16 L616.88,437.05 L617.36,436.89 L617.83,436.77 L618.31,436.75 L618.79,437.27 L619.26,436.26 L619.74,434.90 L620.22,432.86 L620.70,429.91 L621.17,426.96 L621.65,424.69 L622.13,422.87 L622.61,420.92 L623.08,419.25 L623.56,418.03 L624.04,416.64 L624.51,415.10 L624.99,413.48 L625.47,412.21 L625.95,411.20 L626.42,409.32 L626.90,407.52 L627.38,406.44 L627.85,404.27 L628.33,401.60 L628.81,399.88 L629.29,397.82 L629.76,395.30 L630.24,393.22 L630.72,391.12 L631.19,388.74 L631.67,386.42 L632.15,384.16 L632.63,381.62 L633.10,379.29 L633.58,377.39 L634.06,375.46 L634.53,373.72 L635.01,372.11 L635.49,370.60 L635.97,369.13 L636.44,367.39 L636.92,365.96 L637.40,364.62 L637.87,362.75 L638.35,361.10 L638.83,360.06 L639.31,359.60 L639.78,358.62 L640.26,356.66 L640.74,355.81 L641.21,355.35 L641.69,353.98 L642.17,352.78 L642.65,351.78 L643.12,350.74 L643.60,349.78 L644.08,349.09 L644.55,348.49 L645.03,347.55 L645.51,346.86 L645.99,346.37 L646.46,345.26 L646.94,344.48 L647.42,344.23 L647.89,343.67 L648.37,343.01 L648.85,342.17 L649.33,341.53 L649.80,341.26 L650.28,340.61 L650.76,340.01 L651.24,339.62 L651.71,339.34 L652.19,339.36 L652.67,338.77 L653.14,338.16 L653.62,338.53 L654.10,338.81 L654.58,338.47 L655.05,338.28 L655.53,338.40 L656.01,338.64 L656.48,338.92 L656.96,338.87 L657.44,338.74 L657.92,338.80 L658.39,338.74 L658.80,338.41 L658.80,328.12 L658.80,340.28 L658.80,338.88 L658.87,338.92 L659.35,339.89 L659.82,341.09 L660.30,341.95 L660.78,343.47 L661.26,345.43 L661.73,347.09 L662.21,348.90 L662.69,350.62 L663.16,351.75 L663.64,352.76 L664.12,354.22 L664.60,355.46 L665.07,356.22 L665.55,356.97 L666.03,358.34 L666.50,359.87 L666.98,360.76 L667.46,361.63 L667.94,362.58 L668.41,363.83 L668.89,365.39 L669.37,366.55 L669.84,367.44 L670.32,367.98 L670.80,368.61 L671.28,370.01 L671.75,370.86 L672.23,371.30 L672.71,372.65 L673.18,373.73 L673.66,374.55 L674.14,375.38 L674.62,375.53 L675.09,375.97 L675.57,377.01 L676.05,377.89 L676.52,378.91 L677.00,379.82 L677.48,380.27 L677.96,381.01 L678.43,381.53 L678.91,381.45 L679.39,381.91 L679.87,382.66 L680.34,382.67 L680.82,382.89 L681.30,383.93 L681.77,384.77 L682.25,385.32 L682.73,386.05 L683.21,386.52 L683.68,386.49 L684.16,386.86 L684.64,387.72 L685.11,388.38 L685.59,388.88 L686.07,389.42 L686.55,390.04 L687.02,390.24 L687.50,390.06 L687.98,390.39 L688.45,390.53 L688.93,390.61 L689.41,391.31 L689.89,392.07 L690.36,392.82 L690.84,393.03 L691.32,392.94 L691.79,393.63 L692.27,394.62 L692.75,394.88 L693.23,394.79 L693.70,394.97 L694.18,395.03 L694.66,395.33 L695.13,395.92 L695.61,396.13 L696.09,396.25 L696.57,396.88 L697.04,397.47 L697.52,397.63 L698.00,397.95 L698.47,398.21 L698.95,398.26 L699.43,398.39 L699.91,398.72 L700.38,399.40 L700.86,400.01 L701.34,400.19 L701.81,400.43 L702.29,400.95 L702.77,401.40 L703.25,401.78 L703.72,402.03 L704.20,401.61 L704.68,401.35 L705.15,402.07 L705.63,402.66 L706.11,402.93 L706.59,403.30 L707.06,403.20 L707.54,403.13 L708.02,403.52 L708.50,403.69 L708.97,404.24 L709.45,405.19 L709.93,405.62 L710.40,405.88 L710.88,405.92 L711.36,405.60 L711.84,405.69 L712.31,406.32 L712.79,406.83 L713.27,407.00 L713.74,406.79 L714.22,406.58 L714.70,407.13 L715.18,407.66 L715.65,407.93 L716.13,408.43 L716.61,408.78 L717.08,408.75 L717.56,408.80 L718.04,409.25 L718.52,409.44 L718.99,409.49 L719.47,410.03 L719.95,410.67 L720.42,410.81 L720.90,410.78 L721.38,410.66 L721.86,410.39 L722.33,410.56 L722.81,411.09 L723.29,411.33 L723.76,411.27 L724.24,411.57 L724.72,412.04 L725.20,411.63 L725.67,411.17 L726.15,411.90 L726.63,412.31 L727.10,411.84 L727.58,411.95 L728.06,412.23 L728.54,412.47 L729.01,413.16 L729.49,413.66 L729.97,413.50 L730.44,412.99 L730.92,412.60 L731.40,412.44 L731.88,412.89 L732.35,413.70 L732.83,414.43 L733.31,414.76 L733.78,414.41 L734.26,414.28 L734.74,415.12 L735.22,415.53 L735.69,414.74 L736.17,414.61 L736.65,415.18 L737.13,415.05 L737.60,414.70 L738.08,415.21 L738.56,416.05 L739.03,416.27 L739.51,416.11 L739.99,415.95 L740.47,416.34 L740.94,416.89 L741.42,416.71 L741.90,416.83 L742.37,417.64 L742.85,417.98 L743.33,417.78 L743.81,417.71 L744.28,418.11 L744.76,418.71 L745.24,418.70 L745.71,418.14 L746.19,418.07 L746.67,418.39 L747.15,418.05 L747.62,417.73 L748.10,418.34 L748.58,418.96 L749.05,418.98 L749.53,418.74 L750.01,418.71 L750.49,418.95 L750.96,419.12 L751.44,419.04 L751.92,419.08 L752.39,419.14 L752.87,419.35 L753.35,419.78 L753.83,419.69 L754.30,419.50 L754.78,419.19 L755.26,419.06 L755.73,419.67 L756.21,420.16 L756.69,419.97 L757.17,419.48 L757.64,419.50 L758.12,419.98 L758.60,419.93 L759.07,419.74 L759.55,420.45 L760.03,421.38 L760.51,421.53 L760.98,421.21 L761.46,421.08 L761.94,421.00 L762.41,420.88 L762.89,420.91 L763.37,420.99 L763.85,421.15 L764.32,421.11 L764.80,421.02 L765.28,420.76 L765.76,420.45 L766.23,420.63 L766.71,421.34 L767.19,422.21 L767.66,423.08 L768.14,423.18 L768.62,422.01 L769.10,421.34 L769.57,421.94 L770.05,422.13 L770.53,421.79 L771.00,422.12 L771.48,422.71 L771.96,423.23 L772.44,423.04 L772.91,422.27 L773.39,422.46 L773.87,423.16 L774.34,423.02 L774.82,422.99 L775.30,423.44 L775.78,423.51 L776.25,423.54 L776.73,423.39 L777.21,423.14 L777.68,423.17 L778.16,423.52 L778.64,423.80 L779.12,423.93 L779.59,424.08 L780.07,424.13 L780.55,424.24 L781.02,424.03 L781.50,423.71 L781.98,423.64 L782.46,423.41 L782.93,423.31 L783.41,423.73 L783.89,424.19 L784.36,423.82 L784.84,423.28 L785.32,423.25 L785.80,423.21 L786.27,423.63 L786.75,424.34 L787.23,424.15 L787.70,423.94 L788.18,424.44 L788.66,424.77" fill="none" stroke="#b8403a" stroke-width="1.90" stroke-linejoin="round"/>
<path d="M600.18,437.33 L600.66,437.42 L601.13,437.42 L601.61,437.31 L602.09,437.15 L602.56,437.02 L603.04,436.99 L603.52,437.11 L604.00,437.32 L604.47,437.56 L604.95,437.76 L605.43,437.89 L605.90,437.98 L606.38,438.04 L606.86,438.05 L607.34,437.95 L607.81,437.71 L608.29,437.38 L608.77,437.04 L609.24,436.75 L609.72,436.52 L610.20,436.43 L610.68,436.48 L611.15,436.66 L611.63,436.91 L612.11,437.13 L612.58,437.26 L613.06,437.28 L613.54,437.18 L614.02,437.00 L614.49,436.79 L614.97,436.64 L615.45,436.56 L615.92,436.54 L616.40,436.55 L616.88,436.58 L617.36,436.57 L617.83,436.47 L618.31,436.32 L618.79,437.98 L619.26,435.61 L619.74,432.32 L620.22,428.39 L620.70,424.06 L621.17,420.31 L621.65,417.49 L622.13,415.06 L622.61,411.60 L623.08,408.04 L623.56,405.16 L624.04,401.81 L624.51,398.47 L624.99,395.78 L625.47,392.99 L625.95,389.77 L626.42,386.48 L626.90,383.48 L627.38,380.65 L627.85,378.09 L628.33,375.75 L628.81,373.37 L629.29,371.00 L629.76,369.01 L630.24,366.81 L630.72,363.92 L631.19,361.07 L631.67,358.78 L632.15,357.20 L632.63,355.58 L633.10,354.04 L633.58,352.30 L634.06,349.26 L634.53,346.37 L635.01,345.06 L635.49,343.59 L635.97,341.21 L636.44,339.34 L636.92,337.84 L637.40,336.17 L637.87,334.41 L638.35,333.03 L638.83,332.01 L639.31,330.50 L639.78,328.67 L640.26,327.23 L640.74,326.00 L641.21,324.43 L641.69,323.02 L642.17,322.22 L642.65,321.65 L643.12,320.69 L643.60,320.05 L644.08,319.76 L644.55,318.87 L645.03,318.03 L645.51,317.47 L645.99,316.90 L646.46,316.25 L646.94,315.20 L647.42,314.30 L647.89,314.11 L648.37,313.55 L648.85,312.43 L649.33,311.87 L649.80,311.53 L650.28,311.12 L650.76,310.57 L651.24,309.90 L651.71,309.49 L652.19,309.26 L652.67,309.24 L653.14,308.87 L653.62,307.55 L654.10,306.35 L654.58,305.84 L655.05,305.42 L655.53,305.34 L656.01,305.55 L656.48,305.64 L656.96,305.15 L657.44,304.42 L657.92,305.12 L658.39,307.92 L658.87,311.13 L659.35,314.83 L659.82,319.33 L660.30,323.81 L660.78,327.77 L661.26,330.27 L661.73,331.67 L662.21,333.59 L662.69,335.57 L663.16,337.26 L663.64,338.76 L664.12,339.88 L664.60,340.67 L665.07,341.77 L665.55,343.49 L666.03,345.19 L666.50,346.10 L666.98,346.71 L667.46,347.89 L667.94,349.06 L668.41,349.18 L668.89,349.77 L669.37,351.59 L669.84,352.55 L670.32,353.11 L670.80,354.58 L671.28,355.84 L671.75,356.53 L672.23,357.42 L672.71,358.41 L673.18,359.55 L673.66,360.82 L674.14,361.38 L674.62,362.00 L675.09,363.04 L675.57,363.87 L676.05,364.51 L676.52,365.28 L677.00,366.45 L677.48,367.69 L677.96,368.85 L678.43,369.61 L678.91,370.23 L679.39,371.16 L679.87,371.94 L680.34,372.53 L680.82,372.86 L681.30,372.97 L681.77,373.73 L682.25,374.95 L682.73,375.25 L683.21,375.02 L683.68,375.20 L684.16,376.20 L684.64,377.64 L685.11,378.17 L685.59,378.05 L686.07,378.36 L686.55,379.05 L687.02,379.68 L687.50,380.37 L687.98,381.06 L688.45,381.25 L688.93,381.51 L689.41,381.99 L689.89,382.83 L690.36,384.02 L690.84,383.88 L691.32,383.24 L691.79,383.49 L692.27,384.09 L692.75,385.13 L693.23,386.16 L693.70,386.18 L694.18,386.33 L694.66,387.44 L695.13,388.27 L695.61,388.56 L696.09,388.63 L696.57,388.56 L697.04,388.81 L697.52,389.04 L698.00,388.93 L698.47,389.43 L698.95,390.51 L699.43,391.37 L699.91,391.71 L700.38,391.20 L700.86,390.95 L701.34,391.91 L701.81,392.80 L702.29,393.03 L702.77,393.43 L703.25,394.18 L703.72,394.61 L704.20,394.14 L704.68,393.60 L705.15,393.77 L705.63,394.38 L706.11,394.98 L706.59,395.24 L707.06,395.50 L707.54,396.04 L708.02,396.55 L708.50,396.76 L708.97,397.01 L709.45,397.49 L709.93,397.54 L710.40,397.47 L710.88,397.77 L711.36,398.33 L711.84,399.10 L712.31,399.62 L712.79,399.86 L713.27,400.24 L713.74,400.67 L714.22,400.87 L714.70,401.15 L715.18,401.32 L715.65,401.36 L716.13,401.61 L716.61,401.47 L717.08,401.03 L717.56,401.28 L718.04,401.91 L718.52,402.22 L718.99,402.15 L719.47,401.84 L719.95,402.03 L720.42,402.81 L720.90,403.60 L721.38,403.92 L721.86,403.94 L722.33,404.23 L722.81,404.43 L723.29,404.66 L723.76,405.53 L724.24,406.17 L724.72,406.14 L725.20,405.97 L725.67,405.91 L726.15,406.04 L726.63,406.43 L727.10,406.50 L727.58,405.88 L728.06,406.02 L728.54,406.63 L729.01,406.40 L729.49,406.06 L729.97,406.36 L730.44,406.80 L730.92,406.81 L731.40,407.11 L731.88,408.04 L732.35,408.51 L732.83,408.09 L733.31,407.39 L733.78,407.31 L734.26,407.61 L734.74,407.59 L735.22,407.87 L735.69,408.65 L736.17,409.23 L736.65,409.33 L737.13,408.94 L737.60,408.56 L738.08,409.08 L738.56,410.12 L739.03,410.26 L739.51,409.74 L739.99,409.94 L740.47,410.33 L740.94,409.95 L741.42,409.63 L741.90,409.98 L742.37,410.26 L742.85,410.39 L743.33,410.98 L743.81,411.58 L744.28,411.34 L744.76,410.43 L745.24,410.35 L745.71,411.13 L746.19,411.45 L746.67,411.42 L747.15,411.33 L747.62,411.36 L748.10,411.76 L748.58,412.34 L749.05,412.85 L749.53,413.53 L750.01,413.86 L750.49,413.45 L750.96,413.20 L751.44,413.14 L751.92,413.31 L752.39,413.68 L752.87,413.59 L753.35,413.29 L753.83,413.51 L754.30,414.03 L754.78,414.04 L755.26,413.68 L755.73,413.64 L756.21,413.87 L756.69,413.96 L757.17,413.93 L757.64,413.64 L758.12,413.51 L758.60,414.33 L759.07,414.63 L759.55,414.21 L760.03,414.65 L760.51,415.10 L760.98,415.39 L761.46,415.77 L761.94,415.43 L762.41,415.12 L762.89,415.40 L763.37,415.45 L763.85,415.14 L764.32,415.27 L764.80,415.60 L765.28,415.84 L765.76,416.17 L766.23,416.48 L766.71,416.87 L767.19,416.81 L767.66,416.33 L768.14,416.10 L768.62,416.25 L769.10,416.64 L769.57,416.89 L770.05,416.91 L770.53,416.65 L771.00,416.31 L771.48,416.27 L771.96,416.74 L772.44,417.24 L772.91,417.43 L773.39,417.95 L773.87,418.20 L774.34,417.68 L774.82,417.27 L775.30,417.10 L775.78,417.41 L776.25,418.17 L776.73,418.34 L777.21,418.00 L777.68,417.81 L778.16,418.05 L778.64,418.50 L779.12,418.33 L779.59,417.63 L780.07,417.65 L780.55,418.12 L781.02,418.05 L781.50,418.50 L781.98,418.83 L782.46,418.52 L782.93,418.97 L783.41,419.16 L783.89,418.47 L784.36,418.24 L784.84,418.74 L785.32,419.41 L785.80,419.60 L786.27,419.65 L786.75,420.15 L787.23,419.85 L787.70,418.88 L788.18,418.50 L788.66,418.63" fill="none" stroke="#8fb046" stroke-width="1.90" stroke-linejoin="round"/>
<path d="M600.18,436.71 L600.66,436.64 L601.13,436.60 L601.61,436.61 L602.09,436.66 L602.56,436.75 L603.04,436.83 L603.52,436.85 L604.00,436.81 L604.47,436.73 L604.95,436.70 L605.43,436.77 L605.90,436.95 L606.38,437.18 L606.86,437.40 L607.34,437.53 L607.81,437.57 L608.29,437.54 L608.77,437.49 L609.24,437.38 L609.72,437.21 L610.20,437.00 L610.68,436.80 L611.15,436.66 L611.63,436.60 L612.11,436.60 L612.58,436.69 L613.06,436.90 L613.54,437.17 L614.02,437.39 L614.49,437.47 L614.97,437.36 L615.45,437.15 L615.92,436.92 L616.40,436.73 L616.88,436.61 L617.36,436.54 L617.83,436.49 L618.31,436.83 L618.79,438.89 L619.26,430.03 L619.74,415.25 L620.22,398.73 L620.70,384.61 L621.17,372.06 L621.65,360.54 L622.13,350.79 L622.61,341.65 L623.08,332.46 L623.56,324.58 L624.04,318.50 L624.51,312.84 L624.99,308.15 L625.47,304.36 L625.95,299.94 L626.42,294.72 L626.90,290.53 L627.38,287.55 L627.85,284.69 L628.33,282.42 L628.81,280.93 L629.29,279.08 L629.76,277.03 L630.24,275.78 L630.72,275.00 L631.19,273.97 L631.67,272.96 L632.15,272.24 L632.63,271.67 L633.10,271.13 L633.58,270.50 L634.06,269.90 L634.53,269.65 L635.01,269.71 L635.49,269.50 L635.97,268.62 L636.44,267.71 L636.92,267.56 L637.40,267.76 L637.87,267.84 L638.35,267.73 L638.83,267.31 L639.31,266.77 L639.78,266.09 L640.26,265.55 L640.74,265.42 L641.21,265.18 L641.69,264.95 L642.17,265.00 L642.65,265.08 L643.12,264.86 L643.60,264.68 L644.08,264.51 L644.55,264.33 L645.03,264.43 L645.51,264.15 L645.99,263.70 L646.46,263.66 L646.94,263.57 L647.42,263.26 L647.89,263.30 L648.37,263.40 L648.85,263.22 L649.33,262.80 L649.80,261.80 L650.28,261.62 L650.76,262.44 L651.24,262.04 L651.71,261.16 L652.19,261.07 L652.67,261.29 L653.14,261.10 L653.62,260.80 L654.10,261.10 L654.58,261.36 L655.05,261.28 L655.53,260.86 L656.01,260.75 L656.48,261.09 L656.96,261.46 L657.44,264.54 L657.92,271.57 L658.39,278.38 L658.87,282.44 L659.35,286.19 L659.82,289.91 L660.30,293.35 L660.78,296.99 L661.26,300.36 L661.73,302.95 L662.21,305.26 L662.69,307.47 L663.16,309.97 L663.64,312.49 L664.12,314.73 L664.60,316.81 L665.07,318.75 L665.55,321.02 L666.03,323.10 L666.50,324.81 L666.98,326.97 L667.46,329.40 L667.94,331.33 L668.41,332.21 L668.89,332.92 L669.37,334.34 L669.84,335.99 L670.32,337.75 L670.80,339.50 L671.28,340.92 L671.75,342.03 L672.23,343.36 L672.71,344.86 L673.18,345.86 L673.66,346.63 L674.14,347.80 L674.62,349.20 L675.09,350.37 L675.57,351.14 L676.05,351.72 L676.52,352.49 L677.00,353.54 L677.48,354.76 L677.96,355.71 L678.43,356.38 L678.91,357.50 L679.39,358.40 L679.87,359.03 L680.34,359.80 L680.82,360.46 L681.30,361.01 L681.77,361.41 L682.25,361.67 L682.73,361.88 L683.21,362.16 L683.68,362.74 L684.16,363.90 L684.64,364.56 L685.11,364.48 L685.59,365.65 L686.07,367.02 L686.55,367.03 L687.02,367.35 L687.50,368.20 L687.98,368.63 L688.45,369.02 L688.93,369.51 L689.41,369.84 L689.89,370.29 L690.36,370.75 L690.84,371.03 L691.32,371.22 L691.79,371.47 L692.27,372.41 L692.75,373.46 L693.23,373.54 L693.70,373.22 L694.18,373.85 L694.66,375.00 L695.13,375.61 L695.61,376.21 L696.09,377.06 L696.57,377.99 L697.04,378.49 L697.52,378.38 L698.00,378.35 L698.47,378.87 L698.95,379.68 L699.43,380.09 L699.91,380.35 L700.38,381.33 L700.86,382.49 L701.34,382.55 L701.81,382.15 L702.29,382.47 L702.77,383.00 L703.25,383.72 L703.72,384.47 L704.20,384.42 L704.68,384.64 L705.15,385.32 L705.63,385.98 L706.11,386.47 L706.59,386.50 L707.06,386.80 L707.54,387.17 L708.02,387.26 L708.50,387.61 L708.97,388.14 L709.45,388.67 L709.93,389.01 L710.40,389.34 L710.88,389.65 L711.36,389.80 L711.84,390.13 L712.31,390.45 L712.79,390.82 L713.27,391.13 L713.74,391.05 L714.22,390.59 L714.70,390.70 L715.18,391.50 L715.65,391.86 L716.13,391.92 L716.61,391.95 L717.08,391.83 L717.56,392.04 L718.04,393.13 L718.52,393.93 L718.99,393.77 L719.47,393.89 L719.95,393.96 L720.42,393.56 L720.90,393.68 L721.38,394.16 L721.86,394.36 L722.33,394.59 L722.81,394.98 L723.29,395.20 L723.76,395.39 L724.24,395.92 L724.72,396.08 L725.20,396.18 L725.67,396.68 L726.15,396.71 L726.63,396.55 L727.10,396.42 L727.58,396.93 L728.06,397.81 L728.54,397.68 L729.01,397.37 L729.49,397.45 L729.97,397.92 L730.44,398.68 L730.92,399.16 L731.40,399.07 L731.88,398.85 L732.35,399.14 L732.83,399.42 L733.31,399.98 L733.78,400.63 L734.26,400.49 L734.74,399.99 L735.22,399.85 L735.69,400.53 L736.17,401.26 L736.65,401.15 L737.13,400.75 L737.60,400.77 L738.08,400.99 L738.56,401.42 L739.03,401.81 L739.51,401.73 L739.99,402.26 L740.47,403.19 L740.94,402.91 L741.42,402.44 L741.90,402.93 L742.37,403.31 L742.85,403.27 L743.33,403.36 L743.81,403.46 L744.28,403.69 L744.76,404.37 L745.24,404.78 L745.71,404.53 L746.19,404.24 L746.67,403.80 L747.15,403.63 L747.62,404.09 L748.10,404.23 L748.58,404.15 L749.05,404.48 L749.53,405.13 L750.01,405.79 L750.49,406.09 L750.96,406.18 L751.44,405.96 L751.92,405.55 L752.39,405.67 L752.87,406.52 L753.35,407.08 L753.83,406.59 L754.30,406.54 L754.78,407.08 L755.26,407.12 L755.73,406.98 L756.21,407.33 L756.69,408.15 L757.17,408.01 L757.64,407.45 L758.12,407.93 L758.60,408.33 L759.07,408.15 L759.55,407.74 L760.03,407.58 L760.51,407.83 L760.98,407.92 L761.46,408.22 L761.94,408.39 L762.41,407.97 L762.89,408.16 L763.37,408.87 L763.85,409.34 L764.32,409.87 L764.80,410.11 L765.28,409.51 L765.76,409.61 L766.23,410.56 L766.71,410.05 L767.19,408.78 L767.66,409.02 L768.14,410.11 L768.62,410.20 L769.10,409.93 L769.57,410.37 L770.05,410.69 L770.53,410.65 L771.00,410.45 L771.48,410.09 L771.96,410.16 L772.44,411.13 L772.91,411.75 L773.39,411.36 L773.87,411.08 L774.34,410.74 L774.82,410.44 L775.30,411.09 L775.78,411.42 L776.25,410.86 L776.73,410.71 L777.21,411.13 L777.68,411.69 L778.16,412.36 L778.64,412.45 L779.12,411.89 L779.59,411.58 L780.07,411.65 L780.55,411.71 L781.02,411.84 L781.50,412.23 L781.98,412.56 L782.46,412.85 L782.93,413.17 L783.41,413.22 L783.89,412.93 L784.36,412.12 L784.84,411.52 L785.32,411.62 L785.80,412.06 L786.27,412.88 L786.75,413.24 L787.23,412.85 L787.70,412.17 L788.18,411.83 L788.66,412.34" fill="none" stroke="#1b3868" stroke-width="1.90" stroke-linejoin="round"/>
<path d="M600.18,437.21 L600.66,437.32 L601.13,437.28 L601.61,437.05 L602.09,436.73 L602.56,436.48 L603.04,436.40 L603.52,436.48 L604.00,436.61 L604.47,436.75 L604.95,436.88 L605.43,437.00 L605.90,437.07 L606.38,437.08 L606.86,437.00 L607.34,436.86 L607.81,436.70 L608.29,436.59 L608.77,436.59 L609.24,436.74 L609.72,437.01 L610.20,437.31 L610.68,437.52 L611.15,437.62 L611.63,437.57 L612.11,437.36 L612.58,437.00 L613.06,436.55 L613.54,436.12 L614.02,435.82 L614.49,435.73 L614.97,435.85 L615.45,436.13 L615.92,436.44 L616.40,436.75 L616.88,437.01 L617.36,437.23 L617.83,437.38 L618.31,437.51 L618.58,437.07 L618.58,442.50 L618.58,437.54 L618.79,436.14 L619.26,425.01 L619.74,406.68 L620.22,386.55 L620.70,369.79 L621.17,355.53 L621.65,342.35 L622.13,331.45 L622.61,321.93 L623.08,312.74 L623.56,303.59 L624.04,294.93 L624.51,287.63 L624.99,282.14 L625.47,278.22 L625.95,275.21 L626.42,271.92 L626.90,269.12 L627.38,267.01 L627.85,264.88 L628.33,263.54 L628.81,262.49 L629.29,261.39 L629.76,260.84 L630.24,260.34 L630.72,259.45 L631.19,258.72 L631.67,258.70 L632.15,258.45 L632.63,257.58 L633.10,257.24 L633.58,257.17 L634.06,256.54 L634.53,255.75 L635.01,255.71 L635.49,255.29 L635.97,254.24 L636.44,253.92 L636.92,253.73 L637.40,253.46 L637.87,253.69 L638.35,254.22 L638.83,254.05 L639.31,253.38 L639.78,253.16 L640.26,252.79 L640.74,252.81 L641.21,253.36 L641.69,252.64 L642.17,251.65 L642.65,251.76 L643.12,251.67 L643.60,251.21 L644.08,250.94 L644.55,250.98 L645.03,251.00 L645.51,250.70 L645.99,250.14 L646.46,249.66 L646.94,249.71 L647.42,249.67 L647.89,249.17 L648.37,248.70 L648.85,248.50 L649.33,248.49 L649.80,248.63 L650.28,248.70 L650.76,248.50 L651.24,248.08 L651.71,247.90 L652.19,248.04 L652.67,247.72 L653.14,246.93 L653.62,246.53 L654.10,246.50 L654.58,246.37 L655.05,245.93 L655.53,245.36 L656.01,245.25 L656.48,245.38 L656.96,245.35 L657.44,251.86 L657.92,263.12 L658.39,270.03 L658.87,276.11 L659.35,280.86 L659.82,284.73 L660.30,287.43 L660.78,289.55 L661.26,292.63 L661.73,295.82 L662.21,299.36 L662.69,302.95 L663.16,306.07 L663.64,309.75 L664.12,313.16 L664.60,315.75 L665.07,317.80 L665.55,319.89 L666.03,322.07 L666.50,323.88 L666.98,325.72 L667.46,326.95 L667.94,327.98 L668.41,329.89 L668.89,330.98 L669.37,331.46 L669.84,333.11 L670.32,334.44 L670.80,335.45 L671.28,337.31 L671.75,338.51 L672.23,339.12 L672.71,340.51 L673.18,342.04 L673.66,343.18 L674.14,344.49 L674.62,345.89 L675.09,346.47 L675.57,346.78 L676.05,347.91 L676.52,349.23 L677.00,349.65 L677.48,350.08 L677.96,351.31 L678.43,352.50 L678.91,353.84 L679.39,354.83 L679.87,355.13 L680.34,355.94 L680.82,356.68 L681.30,356.96 L681.77,357.47 L682.25,357.87 L682.73,358.16 L683.21,358.88 L683.68,359.90 L684.16,360.51 L684.64,360.90 L685.11,362.10 L685.59,363.17 L686.07,362.96 L686.55,362.60 L687.02,362.72 L687.50,363.07 L687.98,363.72 L688.45,364.40 L688.93,365.09 L689.41,365.94 L689.89,366.53 L690.36,366.84 L690.84,367.27 L691.32,367.96 L691.79,368.30 L692.27,368.45 L692.75,368.95 L693.23,369.54 L693.70,370.22 L694.18,371.10 L694.66,371.70 L695.13,371.58 L695.61,371.21 L696.09,371.46 L696.57,372.07 L697.04,372.43 L697.52,373.36 L698.00,374.68 L698.47,374.71 L698.95,373.99 L699.43,374.07 L699.91,374.62 L700.38,374.83 L700.86,375.36 L701.34,376.55 L701.81,377.64 L702.29,378.06 L702.77,378.00 L703.25,378.15 L703.72,378.45 L704.20,378.62 L704.68,378.98 L705.15,379.50 L705.63,379.85 L706.11,380.65 L706.59,381.82 L707.06,382.06 L707.54,381.54 L708.02,381.53 L708.50,382.14 L708.97,382.69 L709.45,382.86 L709.93,383.06 L710.40,383.91 L710.88,384.72 L711.36,384.47 L711.84,384.29 L712.31,384.37 L712.79,384.71 L713.27,386.18 L713.74,386.34 L714.22,385.51 L714.70,386.86 L715.18,388.28 L715.65,387.82 L716.13,387.48 L716.61,388.06 L717.08,388.31 L717.56,387.81 L718.04,387.59 L718.52,388.20 L718.99,389.04 L719.47,389.46 L719.95,388.95 L720.42,388.91 L720.90,390.33 L721.38,391.20 L721.86,390.91 L722.33,390.56 L722.81,390.77 L723.29,391.41 L723.76,391.52 L724.24,391.22 L724.72,391.24 L725.20,391.59 L725.67,391.98 L726.15,392.34 L726.63,392.47 L727.10,392.39 L727.58,392.98 L728.06,393.50 L728.54,393.48 L729.01,393.84 L729.49,394.10 L729.97,394.16 L730.44,394.04 L730.92,393.92 L731.40,394.33 L731.88,394.74 L732.35,395.45 L732.83,396.48 L733.31,396.60 L733.78,396.21 L734.26,396.16 L734.74,396.18 L735.22,396.26 L735.69,396.31 L736.17,395.92 L736.65,395.72 L737.13,396.56 L737.60,397.81 L738.08,397.93 L738.56,397.10 L739.03,396.64 L739.51,397.03 L739.99,397.85 L740.47,398.17 L740.94,398.01 L741.42,397.91 L741.90,397.75 L742.37,397.72 L742.85,398.22 L743.33,398.73 L743.81,398.77 L744.28,398.40 L744.76,398.16 L745.24,398.63 L745.71,399.44 L746.19,399.96 L746.67,399.90 L747.15,399.69 L747.62,399.81 L748.10,399.67 L748.58,399.33 L749.05,399.52 L749.53,400.03 L750.01,400.44 L750.49,400.61 L750.96,400.65 L751.44,400.71 L751.92,400.79 L752.39,400.98 L752.87,400.97 L753.35,400.65 L753.83,400.77 L754.30,400.99 L754.78,401.29 L755.26,402.13 L755.73,402.77 L756.21,402.89 L756.69,402.51 L757.17,402.01 L757.64,401.74 L758.12,401.98 L758.60,402.66 L759.07,402.99 L759.55,403.44 L760.03,403.91 L760.51,403.52 L760.98,402.86 L761.46,402.69 L761.94,402.80 L762.41,403.03 L762.89,403.15 L763.37,403.18 L763.85,403.43 L764.32,403.58 L764.80,403.60 L765.28,403.89 L765.76,404.22 L766.23,404.50 L766.71,405.08 L767.19,405.55 L767.66,405.03 L768.14,404.27 L768.62,404.78 L769.10,405.56 L769.57,405.35 L770.05,404.61 L770.53,404.88 L771.00,406.29 L771.48,407.17 L771.96,407.14 L772.44,406.79 L772.91,406.29 L773.39,405.71 L773.87,405.85 L774.34,405.97 L774.82,405.75 L775.30,406.28 L775.78,406.51 L776.25,406.61 L776.73,407.13 L777.21,407.10 L777.68,407.00 L778.16,407.08 L778.64,407.09 L779.12,407.48 L779.59,407.66 L780.07,407.52 L780.55,407.67 L781.02,407.85 L781.50,407.93 L781.98,407.88 L782.46,408.22 L782.93,408.63 L783.41,408.52 L783.89,408.18 L784.36,408.02 L784.84,408.33 L785.32,408.98 L785.80,409.71 L786.27,409.99 L786.75,409.87 L787.23,409.65 L787.70,409.27 L788.18,408.78 L788.66,408.85" fill="none" stroke="#e8141a" stroke-width="1.90" stroke-linejoin="round"/>
<rect x="45.60" y="232.60" width="207.60" height="251.80" fill="none" stroke="#000" stroke-width="1.3"/>
<path d="M41.40,484.40H45.60M41.40,470.41H45.60M41.40,456.42H45.60M41.40,442.43H45.60M41.40,428.44H45.60M41.40,414.46H45.60M41.40,400.47H45.60M41.40,386.48H45.60M41.40,372.49H45.60M41.40,358.50H45.60M41.40,344.51H45.60M41.40,330.52H45.60M41.40,316.53H45.60M41.40,302.54H45.60M41.40,288.56H45.60M41.40,274.57H45.60M41.40,260.58H45.60M41.40,246.59H45.60M41.40,232.60H45.60M45.60,484.40V488.60M52.52,484.40V488.60M59.44,484.40V488.60M66.36,484.40V488.60M73.28,484.40V488.60M80.20,484.40V488.60M87.12,484.40V488.60M94.04,484.40V488.60M100.96,484.40V488.60M107.88,484.40V488.60M114.80,484.40V488.60M121.72,484.40V488.60M128.64,484.40V488.60M135.56,484.40V488.60M142.48,484.40V488.60M149.40,484.40V488.60M156.32,484.40V488.60M163.24,484.40V488.60M170.16,484.40V488.60M177.08,484.40V488.60M184.00,484.40V488.60M190.92,484.40V488.60M197.84,484.40V488.60M204.76,484.40V488.60M211.68,484.40V488.60M218.60,484.40V488.60M225.52,484.40V488.60M232.44,484.40V488.60M239.36,484.40V488.60M246.28,484.40V488.60M253.20,484.40V488.60" stroke="#000" stroke-width="1.2" fill="none"/>
<text x="32.80" y="490.00" text-anchor="end" class="tl">-20</text>
<text x="32.80" y="434.04" text-anchor="end" class="tl">0</text>
<text x="32.80" y="378.09" text-anchor="end" class="tl">20</text>
<text x="32.80" y="322.13" text-anchor="end" class="tl">40</text>
<text x="32.80" y="266.18" text-anchor="end" class="tl">60</text>
<text x="45.60" y="507.80" text-anchor="middle" class="tl">-50</text>
<text x="80.20" y="507.80" text-anchor="middle" class="tl">0</text>
<text x="114.80" y="507.80" text-anchor="middle" class="tl">50</text>
<text x="149.40" y="507.80" text-anchor="middle" class="tl">100</text>
<text x="184.00" y="507.80" text-anchor="middle" class="tl">150</text>
<text x="218.60" y="507.80" text-anchor="middle" class="tl">200</text>
<text x="253.20" y="507.80" text-anchor="middle" class="tl">250</text>
<text transform="translate(149.40,527.00) scale(0.96,1)" text-anchor="middle" class="at">Time (sec)</text>
<text transform="translate(10.30,343.50) rotate(-90) scale(0.94,1)" text-anchor="middle" class="at" style="font-size:13px">Resonance unit</text>
<rect x="200.30" y="236.90" width="53.20" height="101.20" fill="#fff" stroke="#000" stroke-width="1.2"/>
<path d="M202.30,247.40H216.80" stroke="#000000" stroke-width="1.6"/>
<text x="217.10" y="250.70" class="lg">2.5 nM</text>
<path d="M202.30,267.75H216.80" stroke="#b8403a" stroke-width="1.6"/>
<text x="217.10" y="271.05" class="lg">5.0 nM</text>
<path d="M202.30,288.10H216.80" stroke="#8fb046" stroke-width="1.6"/>
<text x="217.10" y="291.40" class="lg">10.0 nM</text>
<path d="M202.30,308.45H216.80" stroke="#1b3868" stroke-width="1.6"/>
<text x="217.10" y="311.75" class="lg">20.0 nM</text>
<path d="M202.30,328.80H216.80" stroke="#e8141a" stroke-width="1.6"/>
<text x="217.10" y="332.10" class="lg">30.0 nM</text>
<text x="140.80" y="461.40" class="kd"><tspan font-style="italic">K</tspan><tspan font-size="9.4" dy="3.3">d</tspan><tspan dy="-3.3"> = 3.6 ± 0.1 nM</tspan></text>
<rect x="312.50" y="232.40" width="209.80" height="254.50" fill="none" stroke="#000" stroke-width="1.3"/>
<path d="M308.30,486.90H312.50M308.30,472.76H312.50M308.30,458.62H312.50M308.30,444.48H312.50M308.30,430.34H312.50M308.30,416.21H312.50M308.30,402.07H312.50M308.30,387.93H312.50M308.30,373.79H312.50M308.30,359.65H312.50M308.30,345.51H312.50M308.30,331.37H312.50M308.30,317.23H312.50M308.30,303.09H312.50M308.30,288.96H312.50M308.30,274.82H312.50M308.30,260.68H312.50M308.30,246.54H312.50M308.30,232.40H312.50M312.50,486.90V491.10M319.49,486.90V491.10M326.49,486.90V491.10M333.48,486.90V491.10M340.47,486.90V491.10M347.47,486.90V491.10M354.46,486.90V491.10M361.45,486.90V491.10M368.45,486.90V491.10M375.44,486.90V491.10M382.43,486.90V491.10M389.43,486.90V491.10M396.42,486.90V491.10M403.41,486.90V491.10M410.41,486.90V491.10M417.40,486.90V491.10M424.39,486.90V491.10M431.39,486.90V491.10M438.38,486.90V491.10M445.37,486.90V491.10M452.37,486.90V491.10M459.36,486.90V491.10M466.35,486.90V491.10M473.35,486.90V491.10M480.34,486.90V491.10M487.33,486.90V491.10M494.33,486.90V491.10M501.32,486.90V491.10M508.31,486.90V491.10M515.31,486.90V491.10M522.30,486.90V491.10" stroke="#000" stroke-width="1.2" fill="none"/>
<text x="299.30" y="492.50" text-anchor="end" class="tl">-20</text>
<text x="299.30" y="435.94" text-anchor="end" class="tl">0</text>
<text x="299.30" y="379.39" text-anchor="end" class="tl">20</text>
<text x="299.30" y="322.83" text-anchor="end" class="tl">40</text>
<text x="299.30" y="266.28" text-anchor="end" class="tl">60</text>
<text x="312.50" y="510.30" text-anchor="middle" class="tl">-50</text>
<text x="347.47" y="510.30" text-anchor="middle" class="tl">0</text>
<text x="382.43" y="510.30" text-anchor="middle" class="tl">50</text>
<text x="417.40" y="510.30" text-anchor="middle" class="tl">100</text>
<text x="452.37" y="510.30" text-anchor="middle" class="tl">150</text>
<text x="487.33" y="510.30" text-anchor="middle" class="tl">200</text>
<text x="522.30" y="510.30" text-anchor="middle" class="tl">250</text>
<text transform="translate(416.40,529.50) scale(0.96,1)" text-anchor="middle" class="at">Time (sec)</text>
<text transform="translate(276.70,344.70) rotate(-90) scale(0.94,1)" text-anchor="middle" class="at" style="font-size:13px">Resonance unit</text>
<rect x="468.70" y="236.50" width="53.80" height="101.60" fill="#fff" stroke="#000" stroke-width="1.2"/>
<path d="M470.70,247.00H485.20" stroke="#000000" stroke-width="1.6"/>
<text x="485.50" y="250.30" class="lg">2.5 nM</text>
<path d="M470.70,267.35H485.20" stroke="#b8403a" stroke-width="1.6"/>
<text x="485.50" y="270.65" class="lg">5.0 nM</text>
<path d="M470.70,287.70H485.20" stroke="#8fb046" stroke-width="1.6"/>
<text x="485.50" y="291.00" class="lg">10.0 nM</text>
<path d="M470.70,308.05H485.20" stroke="#1b3868" stroke-width="1.6"/>
<text x="485.50" y="311.35" class="lg">20.0 nM</text>
<path d="M470.70,328.40H485.20" stroke="#e8141a" stroke-width="1.6"/>
<text x="485.50" y="331.70" class="lg">30.0 nM</text>
<text x="397.30" y="461.40" class="kd"><tspan font-style="italic">K</tspan><tspan font-size="9.4" dy="3.3">d</tspan><tspan dy="-3.3"> = 0.99 ± 0.02 nM</tspan></text>
<rect x="584.50" y="231.80" width="204.50" height="252.50" fill="none" stroke="#000" stroke-width="1.3"/>
<path d="M580.30,484.30H584.50M580.30,474.95H584.50M580.30,465.60H584.50M580.30,456.24H584.50M580.30,446.89H584.50M580.30,437.54H584.50M580.30,428.19H584.50M580.30,418.84H584.50M580.30,409.49H584.50M580.30,400.13H584.50M580.30,390.78H584.50M580.30,381.43H584.50M580.30,372.08H584.50M580.30,362.73H584.50M580.30,353.37H584.50M580.30,344.02H584.50M580.30,334.67H584.50M580.30,325.32H584.50M580.30,315.97H584.50M580.30,306.61H584.50M580.30,297.26H584.50M580.30,287.91H584.50M580.30,278.56H584.50M580.30,269.21H584.50M580.30,259.86H584.50M580.30,250.50H584.50M580.30,241.15H584.50M580.30,231.80H584.50M584.50,484.30V488.50M591.32,484.30V488.50M598.13,484.30V488.50M604.95,484.30V488.50M611.77,484.30V488.50M618.58,484.30V488.50M625.40,484.30V488.50M632.22,484.30V488.50M639.03,484.30V488.50M645.85,484.30V488.50M652.67,484.30V488.50M659.48,484.30V488.50M666.30,484.30V488.50M673.12,484.30V488.50M679.93,484.30V488.50M686.75,484.30V488.50M693.57,484.30V488.50M700.38,484.30V488.50M707.20,484.30V488.50M714.02,484.30V488.50M720.83,484.30V488.50M727.65,484.30V488.50M734.47,484.30V488.50M741.28,484.30V488.50M748.10,484.30V488.50M754.92,484.30V488.50M761.73,484.30V488.50M768.55,484.30V488.50M775.37,484.30V488.50M782.18,484.30V488.50M789.00,484.30V488.50" stroke="#000" stroke-width="1.2" fill="none"/>
<text x="571.20" y="489.90" text-anchor="end" class="tl">-50</text>
<text x="571.20" y="443.14" text-anchor="end" class="tl">0</text>
<text x="571.20" y="396.38" text-anchor="end" class="tl">50</text>
<text x="571.20" y="349.62" text-anchor="end" class="tl">100</text>
<text x="571.20" y="302.86" text-anchor="end" class="tl">150</text>
<text x="571.20" y="256.10" text-anchor="end" class="tl">200</text>
<text x="584.50" y="507.70" text-anchor="middle" class="tl">-50</text>
<text x="618.58" y="507.70" text-anchor="middle" class="tl">0</text>
<text x="652.67" y="507.70" text-anchor="middle" class="tl">50</text>
<text x="686.75" y="507.70" text-anchor="middle" class="tl">100</text>
<text x="720.83" y="507.70" text-anchor="middle" class="tl">150</text>
<text x="754.92" y="507.70" text-anchor="middle" class="tl">200</text>
<text x="789.00" y="507.70" text-anchor="middle" class="tl">250</text>
<text transform="translate(694.40,526.90) scale(0.96,1)" text-anchor="middle" class="at">Time (sec)</text>
<text transform="translate(546.20,347.00) rotate(-90) scale(0.94,1)" text-anchor="middle" class="at" style="font-size:13px">Resonance unit</text>
<rect x="732.00" y="236.20" width="57.50" height="101.60" fill="#fff" stroke="#000" stroke-width="1.2"/>
<path d="M734.00,246.70H748.50" stroke="#000000" stroke-width="1.6"/>
<text x="748.80" y="250.00" class="lg">10.0 nM</text>
<path d="M734.00,267.05H748.50" stroke="#b8403a" stroke-width="1.6"/>
<text x="748.80" y="270.35" class="lg">20.0 nM</text>
<path d="M734.00,287.40H748.50" stroke="#8fb046" stroke-width="1.6"/>
<text x="748.80" y="290.70" class="lg">30.0 nM</text>
<path d="M734.00,307.75H748.50" stroke="#1b3868" stroke-width="1.6"/>
<text x="748.80" y="311.05" class="lg">75.0 nM</text>
<path d="M734.00,328.10H748.50" stroke="#e8141a" stroke-width="1.6"/>
<text x="748.80" y="331.40" class="lg">100.0 nM</text>
<text x="668.20" y="461.40" class="kd"><tspan font-style="italic">K</tspan><tspan font-size="9.4" dy="3.3">d</tspan><tspan dy="-3.3"> = 9.6 ± 0.2 nM</tspan></text>
<text transform="translate(29.0,15.6) scale(1,1)" class="lbl">A</text>
<text transform="translate(299.0,15.6) scale(0.96,1)" class="lbl">B</text>
<text transform="translate(546.8,15.6) scale(1,1)" class="lbl">C</text>
<text x="133.4" y="16.1" text-anchor="middle" class="ttl">Apt1</text>
<text x="402.6" y="16.1" text-anchor="middle" class="ttl">Apt1-S</text>
<text x="667.8" y="16.5" text-anchor="middle" class="ttl">RDE</text>
<text transform="translate(119.20,50.25) scale(0.860,1)" text-anchor="middle" class="nt" fill="#000" stroke="#000" stroke-width="0.30">C</text>
<text transform="translate(127.20,45.55) scale(0.860,1)" text-anchor="middle" class="nt" fill="#000" stroke="#000" stroke-width="0.30">A</text>
<text transform="translate(135.60,46.05) scale(0.860,1)" text-anchor="middle" class="nt" fill="#000" stroke="#000" stroke-width="0.30">C</text>
<text transform="translate(143.60,50.25) scale(0.860,1)" text-anchor="middle" class="nt" fill="#000" stroke="#000" stroke-width="0.30">G</text>
<text transform="translate(116.90,59.15) scale(0.860,1)" text-anchor="middle" class="nt" fill="#cc2229" stroke="#cc2229" stroke-width="0.30">C</text>
<text transform="translate(145.90,58.65) scale(0.860,1)" text-anchor="middle" class="nt" fill="#cc2229" stroke="#cc2229" stroke-width="0.30">G</text>
<text transform="translate(117.30,67.55) scale(0.860,1)" text-anchor="middle" class="nt" fill="#cc2229" stroke="#cc2229" stroke-width="0.30">A</text>
<text transform="translate(145.00,67.05) scale(0.860,1)" text-anchor="middle" class="nt" fill="#cc2229" stroke="#cc2229" stroke-width="0.30">C</text>
<text transform="translate(122.50,75.35) scale(0.860,1)" text-anchor="middle" class="nt" fill="#cc2229" stroke="#cc2229" stroke-width="0.30">C</text>
<text transform="translate(141.20,74.95) scale(0.860,1)" text-anchor="middle" class="nt" fill="#cc2229" stroke="#cc2229" stroke-width="0.30">G</text>
<text transform="translate(148.70,78.65) scale(0.860,1)" text-anchor="middle" class="nt" fill="#cc2229" stroke="#cc2229" stroke-width="0.30">A</text>
<text transform="translate(122.50,83.85) scale(0.860,1)" text-anchor="middle" class="nt" fill="#cc2229" stroke="#cc2229" stroke-width="0.30">C</text>
<text transform="translate(141.20,83.85) scale(0.860,1)" text-anchor="middle" class="nt" fill="#cc2229" stroke="#cc2229" stroke-width="0.30">G</text>
<text transform="translate(122.50,92.75) scale(0.860,1)" text-anchor="middle" class="nt" fill="#000" stroke="#000" stroke-width="0.30">C</text>
<text transform="translate(141.20,92.45) scale(0.860,1)" text-anchor="middle" class="nt" fill="#000" stroke="#000" stroke-width="0.30">G</text>
<text transform="translate(122.50,100.65) scale(0.860,1)" text-anchor="middle" class="nt" fill="#000" stroke="#000" stroke-width="0.30">A</text>
<text transform="translate(141.20,100.65) scale(0.860,1)" text-anchor="middle" class="nt" fill="#000" stroke="#000" stroke-width="0.30">U</text>
<text transform="translate(116.90,107.75) scale(0.860,1)" text-anchor="middle" class="nt" fill="#000" stroke="#000" stroke-width="0.30">G</text>
<text transform="translate(147.30,106.75) scale(0.860,1)" text-anchor="middle" class="nt" fill="#000" stroke="#000" stroke-width="0.30">A</text>
<text transform="translate(114.10,115.05) scale(0.860,1)" text-anchor="middle" class="nt" fill="#000" stroke="#000" stroke-width="0.30">C</text>
<text transform="translate(150.60,114.85) scale(0.860,1)" text-anchor="middle" class="nt" fill="#000" stroke="#000" stroke-width="0.30">U</text>
<text transform="translate(116.40,124.25) scale(0.860,1)" text-anchor="middle" class="nt" fill="#000" stroke="#000" stroke-width="0.30">A</text>
<text transform="translate(148.30,124.25) scale(0.860,1)" text-anchor="middle" class="nt" fill="#000" stroke="#000" stroke-width="0.30">C</text>
<text transform="translate(123.00,130.35) scale(0.860,1)" text-anchor="middle" class="nt" fill="#000" stroke="#000" stroke-width="0.30">G</text>
<text transform="translate(141.20,130.35) scale(0.860,1)" text-anchor="middle" class="nt" fill="#000" stroke="#000" stroke-width="0.30">C</text>
<text transform="translate(123.00,138.35) scale(0.860,1)" text-anchor="middle" class="nt" fill="#000" stroke="#000" stroke-width="0.30">G</text>
<text transform="translate(141.20,138.35) scale(0.860,1)" text-anchor="middle" class="nt" fill="#000" stroke="#000" stroke-width="0.30">C</text>
<text transform="translate(123.00,146.75) scale(0.860,1)" text-anchor="middle" class="nt" fill="#000" stroke="#000" stroke-width="0.30">U</text>
<text transform="translate(141.20,146.75) scale(0.860,1)" text-anchor="middle" class="nt" fill="#000" stroke="#000" stroke-width="0.30">A</text>
<text transform="translate(123.00,154.85) scale(0.860,1)" text-anchor="middle" class="nt" fill="#000" stroke="#000" stroke-width="0.30">A</text>
<text transform="translate(141.20,154.85) scale(0.860,1)" text-anchor="middle" class="nt" fill="#000" stroke="#000" stroke-width="0.30">U</text>
<text transform="translate(123.00,162.85) scale(0.860,1)" text-anchor="middle" class="nt" fill="#000" stroke="#000" stroke-width="0.30">A</text>
<text transform="translate(141.20,162.85) scale(0.860,1)" text-anchor="middle" class="nt" fill="#000" stroke="#000" stroke-width="0.30">U</text>
<text transform="translate(123.00,170.85) scale(0.860,1)" text-anchor="middle" class="nt" fill="#000" stroke="#000" stroke-width="0.30">C</text>
<text transform="translate(141.20,170.85) scale(0.860,1)" text-anchor="middle" class="nt" fill="#000" stroke="#000" stroke-width="0.30">G</text>
<text transform="translate(116.90,176.45) scale(0.860,1)" text-anchor="middle" class="nt" fill="#000" stroke="#000" stroke-width="0.30">G</text>
<text transform="translate(144.50,179.25) scale(0.860,1)" text-anchor="middle" class="nt" fill="#000" stroke="#000" stroke-width="0.30">C</text>
<text transform="translate(115.30,183.95) scale(0.860,1)" text-anchor="middle" class="nt" fill="#000" stroke="#000" stroke-width="0.30">C</text>
<text transform="translate(142.60,188.25) scale(0.860,1)" text-anchor="middle" class="nt" fill="#000" stroke="#000" stroke-width="0.30">C</text>
<text transform="translate(119.00,190.65) scale(0.860,1)" text-anchor="middle" class="nt" fill="#000" stroke="#000" stroke-width="0.30">A</text>
<text transform="translate(125.00,196.25) scale(0.860,1)" text-anchor="middle" class="nt" fill="#000" stroke="#000" stroke-width="0.30">G</text>
<text transform="translate(145.50,196.35) scale(0.860,1)" text-anchor="middle" class="nt" fill="#000" stroke="#000" stroke-width="0.30">C</text>
<text transform="translate(128.80,203.95) scale(0.860,1)" text-anchor="middle" class="nt" fill="#000" stroke="#000" stroke-width="0.30">G</text>
<text transform="translate(149.40,203.95) scale(0.860,1)" text-anchor="middle" class="nt" fill="#000" stroke="#000" stroke-width="0.30">C</text>
<text transform="translate(133.10,211.45) scale(0.860,1)" text-anchor="middle" class="nt" fill="#000" stroke="#000" stroke-width="0.30">G</text>
<text transform="translate(154.10,211.15) scale(0.860,1)" text-anchor="middle" class="nt" fill="#000" stroke="#000" stroke-width="0.30">U</text>
<text transform="translate(160.50,212.95) scale(0.860,1)" text-anchor="middle" class="nt" fill="#000" stroke="#000" stroke-width="0.30">A</text>
<text transform="translate(167.30,212.95) scale(0.860,1)" text-anchor="middle" class="nt" fill="#000" stroke="#000" stroke-width="0.30">A</text>
<text transform="translate(174.40,212.95) scale(0.860,1)" text-anchor="middle" class="nt" fill="#000" stroke="#000" stroke-width="0.30">C</text>
<text transform="translate(182.30,212.95) scale(0.860,1)" text-anchor="middle" class="nt" fill="#000" stroke="#000" stroke-width="0.30">G</text>
<text transform="translate(189.40,207.55) scale(0.860,1)" text-anchor="middle" class="nt" fill="#000" stroke="#000" stroke-width="0.30">G</text>
<text transform="translate(191.90,111.45) scale(0.860,1)" text-anchor="middle" class="nt" fill="#000" stroke="#000" stroke-width="0.30">G</text>
<text transform="translate(191.90,119.31) scale(0.860,1)" text-anchor="middle" class="nt" fill="#000" stroke="#000" stroke-width="0.30">A</text>
<text transform="translate(191.90,127.17) scale(0.860,1)" text-anchor="middle" class="nt" fill="#000" stroke="#000" stroke-width="0.30">G</text>
<text transform="translate(191.90,135.03) scale(0.860,1)" text-anchor="middle" class="nt" fill="#000" stroke="#000" stroke-width="0.30">A</text>
<text transform="translate(191.90,142.89) scale(0.860,1)" text-anchor="middle" class="nt" fill="#000" stroke="#000" stroke-width="0.30">G</text>
<text transform="translate(191.90,150.75) scale(0.860,1)" text-anchor="middle" class="nt" fill="#000" stroke="#000" stroke-width="0.30">U</text>
<text transform="translate(191.90,158.61) scale(0.860,1)" text-anchor="middle" class="nt" fill="#000" stroke="#000" stroke-width="0.30">A</text>
<text transform="translate(191.90,166.47) scale(0.860,1)" text-anchor="middle" class="nt" fill="#000" stroke="#000" stroke-width="0.30">C</text>
<text transform="translate(191.90,174.33) scale(0.860,1)" text-anchor="middle" class="nt" fill="#000" stroke="#000" stroke-width="0.30">A</text>
<text transform="translate(191.90,182.19) scale(0.860,1)" text-anchor="middle" class="nt" fill="#000" stroke="#000" stroke-width="0.30">G</text>
<text transform="translate(191.90,190.05) scale(0.860,1)" text-anchor="middle" class="nt" fill="#000" stroke="#000" stroke-width="0.30">C</text>
<text transform="translate(191.90,197.91) scale(0.860,1)" text-anchor="middle" class="nt" fill="#000" stroke="#000" stroke-width="0.30">C</text>
<text transform="translate(108.00,69.26) scale(0.9,1)" text-anchor="middle" class="num">20</text>
<text transform="translate(150.30,86.36) scale(0.9,1)" text-anchor="middle" class="num">30</text>
<text transform="translate(114.50,146.06) scale(0.9,1)" text-anchor="middle" class="num">10</text>
<text transform="translate(149.90,161.86) scale(0.9,1)" text-anchor="middle" class="num">40</text>
<text transform="translate(126.50,216.46) scale(0.9,1)" text-anchor="middle" class="num">5'</text>
<text transform="translate(198.60,105.66) scale(0.9,1)" text-anchor="middle" class="num">3'</text>
<text transform="translate(199.60,134.26) scale(0.9,1)" text-anchor="middle" class="num">60</text>
<clipPath id="cl50"><rect x="170" y="200" width="40" height="17.3"/></clipPath><g clip-path="url(#cl50)"><text x="186" y="219.9" text-anchor="middle" class="num">50</text></g>
<path d="M127.20,71.80L136.60,71.80M127.20,80.50L136.60,80.50M127.20,89.20L136.60,89.20M127.20,97.30L136.60,97.30M127.60,127.00L136.60,127.00M127.60,135.00L136.60,135.00M127.60,143.40L136.60,143.40M127.60,151.50L136.60,151.50M127.60,159.50L136.60,159.50M127.60,167.50L136.60,167.50M130.00,191.30L138.80,187.50M133.10,198.80L141.90,195.00M137.50,205.60L146.30,201.90" stroke="#000" stroke-width="1.40" fill="none"/>
<text transform="translate(389.30,50.38) scale(0.880,1)" text-anchor="middle" class="nr" fill="#000" stroke="#000" stroke-width="0.35">C</text>
<text transform="translate(396.50,46.38) scale(0.880,1)" text-anchor="middle" class="nr" fill="#000" stroke="#000" stroke-width="0.35">A</text>
<text transform="translate(405.00,46.38) scale(0.880,1)" text-anchor="middle" class="nr" fill="#000" stroke="#000" stroke-width="0.35">C</text>
<text transform="translate(412.90,50.38) scale(0.880,1)" text-anchor="middle" class="nr" fill="#000" stroke="#000" stroke-width="0.35">G</text>
<text transform="translate(386.60,59.58) scale(0.880,1)" text-anchor="middle" class="nr" fill="#cc2229" stroke="#cc2229" stroke-width="0.35">C</text>
<text transform="translate(415.60,58.88) scale(0.880,1)" text-anchor="middle" class="nr" fill="#cc2229" stroke="#cc2229" stroke-width="0.35">G</text>
<text transform="translate(387.30,68.08) scale(0.880,1)" text-anchor="middle" class="nr" fill="#cc2229" stroke="#cc2229" stroke-width="0.35">A</text>
<text transform="translate(414.20,67.48) scale(0.880,1)" text-anchor="middle" class="nr" fill="#cc2229" stroke="#cc2229" stroke-width="0.35">C</text>
<text transform="translate(392.60,75.28) scale(0.880,1)" text-anchor="middle" class="nr" fill="#cc2229" stroke="#cc2229" stroke-width="0.35">C</text>
<text transform="translate(411.00,74.68) scale(0.880,1)" text-anchor="middle" class="nr" fill="#cc2229" stroke="#cc2229" stroke-width="0.35">G</text>
<text transform="translate(418.80,78.58) scale(0.880,1)" text-anchor="middle" class="nr" fill="#cc2229" stroke="#cc2229" stroke-width="0.35">A</text>
<text transform="translate(392.60,83.88) scale(0.880,1)" text-anchor="middle" class="nr" fill="#cc2229" stroke="#cc2229" stroke-width="0.35">C</text>
<text transform="translate(411.00,83.88) scale(0.880,1)" text-anchor="middle" class="nr" fill="#cc2229" stroke="#cc2229" stroke-width="0.35">G</text>
<text transform="translate(392.60,92.38) scale(0.880,1)" text-anchor="middle" class="nr" fill="#000" stroke="#000" stroke-width="0.35">C</text>
<text transform="translate(411.00,92.38) scale(0.880,1)" text-anchor="middle" class="nr" fill="#000" stroke="#000" stroke-width="0.35">G</text>
<text transform="translate(392.60,100.58) scale(0.880,1)" text-anchor="middle" class="nr" fill="#000" stroke="#000" stroke-width="0.35">A</text>
<text transform="translate(410.90,100.78) scale(0.880,1)" text-anchor="middle" class="nr" fill="#000" stroke="#000" stroke-width="0.35">U</text>
<text transform="translate(387.00,106.88) scale(0.880,1)" text-anchor="middle" class="nr" fill="#000" stroke="#000" stroke-width="0.35">G</text>
<text transform="translate(416.50,106.38) scale(0.880,1)" text-anchor="middle" class="nr" fill="#000" stroke="#000" stroke-width="0.35">A</text>
<text transform="translate(384.20,114.88) scale(0.880,1)" text-anchor="middle" class="nr" fill="#000" stroke="#000" stroke-width="0.35">C</text>
<text transform="translate(420.30,114.88) scale(0.880,1)" text-anchor="middle" class="nr" fill="#000" stroke="#000" stroke-width="0.35">U</text>
<text transform="translate(386.60,123.28) scale(0.880,1)" text-anchor="middle" class="nr" fill="#000" stroke="#000" stroke-width="0.35">A</text>
<text transform="translate(417.50,123.78) scale(0.880,1)" text-anchor="middle" class="nr" fill="#000" stroke="#000" stroke-width="0.35">C</text>
<text transform="translate(393.10,130.28) scale(0.880,1)" text-anchor="middle" class="nr" fill="#000" stroke="#000" stroke-width="0.35">G</text>
<text transform="translate(410.90,130.28) scale(0.880,1)" text-anchor="middle" class="nr" fill="#000" stroke="#000" stroke-width="0.35">C</text>
<text transform="translate(392.80,138.38) scale(0.880,1)" text-anchor="middle" class="nr" fill="#000" stroke="#000" stroke-width="0.35">G</text>
<text transform="translate(410.70,138.38) scale(0.880,1)" text-anchor="middle" class="nr" fill="#000" stroke="#000" stroke-width="0.35">C</text>
<text transform="translate(392.60,146.18) scale(0.880,1)" text-anchor="middle" class="nr" fill="#000" stroke="#000" stroke-width="0.35">U</text>
<text transform="translate(410.60,146.18) scale(0.880,1)" text-anchor="middle" class="nr" fill="#000" stroke="#000" stroke-width="0.35">A</text>
<text transform="translate(392.60,154.08) scale(0.880,1)" text-anchor="middle" class="nr" fill="#000" stroke="#000" stroke-width="0.35">A</text>
<text transform="translate(410.60,154.08) scale(0.880,1)" text-anchor="middle" class="nr" fill="#000" stroke="#000" stroke-width="0.35">U</text>
<text transform="translate(392.60,161.98) scale(0.880,1)" text-anchor="middle" class="nr" fill="#000" stroke="#000" stroke-width="0.35">G</text>
<text transform="translate(410.60,161.98) scale(0.880,1)" text-anchor="middle" class="nr" fill="#000" stroke="#000" stroke-width="0.35">C</text>
<text transform="translate(392.60,169.28) scale(0.880,1)" text-anchor="middle" class="nr" fill="#000" stroke="#000" stroke-width="0.35">G</text>
<text transform="translate(410.60,169.28) scale(0.880,1)" text-anchor="middle" class="nr" fill="#000" stroke="#000" stroke-width="0.35">C</text>
<text transform="translate(392.60,177.18) scale(0.880,1)" text-anchor="middle" class="nr" fill="#000" stroke="#000" stroke-width="0.35">G</text>
<text transform="translate(410.60,177.18) scale(0.880,1)" text-anchor="middle" class="nr" fill="#000" stroke="#000" stroke-width="0.35">C</text>
<text transform="translate(411.10,184.48) scale(0.880,1)" text-anchor="middle" class="nr" fill="#000" stroke="#000" stroke-width="0.35">A</text>
<text transform="translate(420.20,45.16) scale(0.9,1)" text-anchor="middle" class="num">20</text>
<text transform="translate(378.80,70.16) scale(0.9,1)" text-anchor="middle" class="num">15</text>
<text transform="translate(420.40,86.56) scale(0.9,1)" text-anchor="middle" class="num">25</text>
<text transform="translate(379.10,102.46) scale(0.9,1)" text-anchor="middle" class="num">10</text>
<text transform="translate(425.50,123.16) scale(0.9,1)" text-anchor="middle" class="num">30</text>
<text transform="translate(385.20,145.56) scale(0.9,1)" text-anchor="middle" class="num">5</text>
<text transform="translate(418.60,161.36) scale(0.9,1)" text-anchor="middle" class="num">35</text>
<text transform="translate(386.00,181.06) scale(0.9,1)" text-anchor="middle" class="num">5'</text>
<text transform="translate(419.20,185.56) scale(0.9,1)" text-anchor="middle" class="num">3'</text>
<path d="M397.30,72.00L406.20,72.00M397.30,80.60L406.20,80.60M397.30,89.10L406.20,89.10M397.30,97.50L406.20,97.50M397.80,127.00L406.10,127.00M397.80,135.10L406.10,135.10M397.80,142.90L406.10,142.90M397.80,150.80L406.10,150.80M397.80,158.70L406.10,158.70M397.80,166.00L406.10,166.00M397.80,173.90L406.10,173.90" stroke="#000" stroke-width="1.10" fill="none"/>
<text transform="translate(658.00,48.03) scale(0.850,1)" text-anchor="middle" class="nr" fill="#000" stroke="#000" stroke-width="0.3" style="font-size:9.4px">C</text>
<text transform="translate(675.60,48.03) scale(0.850,1)" text-anchor="middle" class="nr" fill="#000" stroke="#000" stroke-width="0.3" style="font-size:9.4px">G</text>
<text transform="translate(658.00,55.40) scale(0.850,1)" text-anchor="middle" class="nr" fill="#000" stroke="#000" stroke-width="0.3" style="font-size:9.4px">A</text>
<text transform="translate(675.60,55.40) scale(0.850,1)" text-anchor="middle" class="nr" fill="#000" stroke="#000" stroke-width="0.3" style="font-size:9.4px">T</text>
<text transform="translate(658.00,62.77) scale(0.850,1)" text-anchor="middle" class="nr" fill="#000" stroke="#000" stroke-width="0.3" style="font-size:9.4px">G</text>
<text transform="translate(675.60,62.77) scale(0.850,1)" text-anchor="middle" class="nr" fill="#000" stroke="#000" stroke-width="0.3" style="font-size:9.4px">C</text>
<text transform="translate(658.00,70.14) scale(0.850,1)" text-anchor="middle" class="nr" fill="#000" stroke="#000" stroke-width="0.3" style="font-size:9.4px">C</text>
<text transform="translate(675.60,70.14) scale(0.850,1)" text-anchor="middle" class="nr" fill="#000" stroke="#000" stroke-width="0.3" style="font-size:9.4px">G</text>
<text transform="translate(658.00,77.51) scale(0.850,1)" text-anchor="middle" class="nr" fill="#000" stroke="#000" stroke-width="0.3" style="font-size:9.4px">A</text>
<text transform="translate(675.60,77.51) scale(0.850,1)" text-anchor="middle" class="nr" fill="#000" stroke="#000" stroke-width="0.3" style="font-size:9.4px">T</text>
<text transform="translate(658.00,84.88) scale(0.850,1)" text-anchor="middle" class="nr" fill="#000" stroke="#000" stroke-width="0.3" style="font-size:9.4px">A</text>
<text transform="translate(675.60,84.88) scale(0.850,1)" text-anchor="middle" class="nr" fill="#000" stroke="#000" stroke-width="0.3" style="font-size:9.4px">T</text>
<text transform="translate(658.00,92.25) scale(0.850,1)" text-anchor="middle" class="nr" fill="#000" stroke="#000" stroke-width="0.3" style="font-size:9.4px">A</text>
<text transform="translate(675.60,92.25) scale(0.850,1)" text-anchor="middle" class="nr" fill="#cc2229" stroke="#cc2229" stroke-width="0.3" style="font-size:9.4px">T</text>
<text transform="translate(658.00,99.62) scale(0.850,1)" text-anchor="middle" class="nr" fill="#000" stroke="#000" stroke-width="0.3" style="font-size:9.4px">C</text>
<text transform="translate(675.60,99.62) scale(0.850,1)" text-anchor="middle" class="nr" fill="#cc2229" stroke="#cc2229" stroke-width="0.3" style="font-size:9.4px">G</text>
<text transform="translate(658.00,106.99) scale(0.850,1)" text-anchor="middle" class="nr" fill="#000" stroke="#000" stroke-width="0.3" style="font-size:9.4px">G</text>
<text transform="translate(675.60,106.99) scale(0.850,1)" text-anchor="middle" class="nr" fill="#cc2229" stroke="#cc2229" stroke-width="0.3" style="font-size:9.4px">C</text>
<text transform="translate(658.00,114.36) scale(0.850,1)" text-anchor="middle" class="nr" fill="#000" stroke="#000" stroke-width="0.3" style="font-size:9.4px">C</text>
<text transform="translate(675.60,114.36) scale(0.850,1)" text-anchor="middle" class="nr" fill="#cc2229" stroke="#cc2229" stroke-width="0.3" style="font-size:9.4px">G</text>
<text transform="translate(658.00,121.73) scale(0.850,1)" text-anchor="middle" class="nr" fill="#000" stroke="#000" stroke-width="0.3" style="font-size:9.4px">C</text>
<text transform="translate(675.60,121.73) scale(0.850,1)" text-anchor="middle" class="nr" fill="#cc2229" stroke="#cc2229" stroke-width="0.3" style="font-size:9.4px">G</text>
<text transform="translate(658.00,129.10) scale(0.850,1)" text-anchor="middle" class="nr" fill="#000" stroke="#000" stroke-width="0.3" style="font-size:9.4px">A</text>
<text transform="translate(675.60,129.10) scale(0.850,1)" text-anchor="middle" class="nr" fill="#cc2229" stroke="#cc2229" stroke-width="0.3" style="font-size:9.4px">T</text>
<text transform="translate(658.00,136.47) scale(0.850,1)" text-anchor="middle" class="nr" fill="#000" stroke="#000" stroke-width="0.3" style="font-size:9.4px">A</text>
<text transform="translate(675.60,136.47) scale(0.850,1)" text-anchor="middle" class="nr" fill="#000" stroke="#000" stroke-width="0.3" style="font-size:9.4px">T</text>
<text transform="translate(658.00,143.84) scale(0.850,1)" text-anchor="middle" class="nr" fill="#000" stroke="#000" stroke-width="0.3" style="font-size:9.4px">A</text>
<text transform="translate(675.60,143.84) scale(0.850,1)" text-anchor="middle" class="nr" fill="#000" stroke="#000" stroke-width="0.3" style="font-size:9.4px">T</text>
<text transform="translate(658.00,151.21) scale(0.850,1)" text-anchor="middle" class="nr" fill="#000" stroke="#000" stroke-width="0.3" style="font-size:9.4px">C</text>
<text transform="translate(675.60,151.21) scale(0.850,1)" text-anchor="middle" class="nr" fill="#000" stroke="#000" stroke-width="0.3" style="font-size:9.4px">G</text>
<text transform="translate(658.00,158.58) scale(0.850,1)" text-anchor="middle" class="nr" fill="#000" stroke="#000" stroke-width="0.3" style="font-size:9.4px">C</text>
<text transform="translate(675.60,158.58) scale(0.850,1)" text-anchor="middle" class="nr" fill="#000" stroke="#000" stroke-width="0.3" style="font-size:9.4px">G</text>
<text transform="translate(658.00,165.95) scale(0.850,1)" text-anchor="middle" class="nr" fill="#000" stroke="#000" stroke-width="0.3" style="font-size:9.4px">C</text>
<text transform="translate(675.60,165.95) scale(0.850,1)" text-anchor="middle" class="nr" fill="#000" stroke="#000" stroke-width="0.3" style="font-size:9.4px">G</text>
<text transform="translate(658.00,173.32) scale(0.850,1)" text-anchor="middle" class="nr" fill="#000" stroke="#000" stroke-width="0.3" style="font-size:9.4px">C</text>
<text transform="translate(675.60,173.32) scale(0.850,1)" text-anchor="middle" class="nr" fill="#000" stroke="#000" stroke-width="0.3" style="font-size:9.4px">G</text>
<text transform="translate(658.00,180.69) scale(0.850,1)" text-anchor="middle" class="nr" fill="#000" stroke="#000" stroke-width="0.3" style="font-size:9.4px">T</text>
<text transform="translate(675.60,180.69) scale(0.850,1)" text-anchor="middle" class="nr" fill="#000" stroke="#000" stroke-width="0.3" style="font-size:9.4px">A</text>
<path d="M662.60,44.60L671.10,44.60M662.60,51.97L671.10,51.97M662.60,59.34L671.10,59.34M662.60,66.71L671.10,66.71M662.60,74.08L671.10,74.08M662.60,81.45L671.10,81.45M662.60,88.82L671.10,88.82M662.60,96.19L671.10,96.19M662.60,103.56L671.10,103.56M662.60,110.93L671.10,110.93M662.60,118.30L671.10,118.30M662.60,125.67L671.10,125.67M662.60,133.04L671.10,133.04M662.60,140.41L671.10,140.41M662.60,147.78L671.10,147.78M662.60,155.15L671.10,155.15M662.60,162.52L671.10,162.52M662.60,169.89L671.10,169.89M662.60,177.26L671.10,177.26" stroke="#000" stroke-width="1.30" fill="none"/>
<text transform="translate(651.40,43.90) scale(0.9,1)" text-anchor="middle" style="font-size:7.4px;stroke:#000;stroke-width:0.3px">3'</text>
<text transform="translate(682.30,43.90) scale(0.9,1)" text-anchor="middle" style="font-size:7.4px;stroke:#000;stroke-width:0.3px">5'</text>
<text transform="translate(650.00,77.10) scale(0.9,1)" text-anchor="middle" style="font-size:7.4px;stroke:#000;stroke-width:0.3px">15'</text>
<text transform="translate(683.40,77.10) scale(0.9,1)" text-anchor="middle" style="font-size:7.4px;stroke:#000;stroke-width:0.3px">5</text>
<text transform="translate(649.70,113.60) scale(0.9,1)" text-anchor="middle" style="font-size:7.4px;stroke:#000;stroke-width:0.3px">10'</text>
<text transform="translate(684.00,113.90) scale(0.9,1)" text-anchor="middle" style="font-size:7.4px;stroke:#000;stroke-width:0.3px">10</text>
<text transform="translate(650.20,151.00) scale(0.9,1)" text-anchor="middle" style="font-size:7.4px;stroke:#000;stroke-width:0.3px">5'</text>
<text transform="translate(683.40,151.00) scale(0.9,1)" text-anchor="middle" style="font-size:7.4px;stroke:#000;stroke-width:0.3px">15</text>
<text transform="translate(650.20,183.40) scale(0.9,1)" text-anchor="middle" style="font-size:7.4px;stroke:#000;stroke-width:0.3px">5'</text>
<text transform="translate(681.90,183.40) scale(0.9,1)" text-anchor="middle" style="font-size:7.4px;stroke:#000;stroke-width:0.3px">3'</text>
</svg></body></html>
